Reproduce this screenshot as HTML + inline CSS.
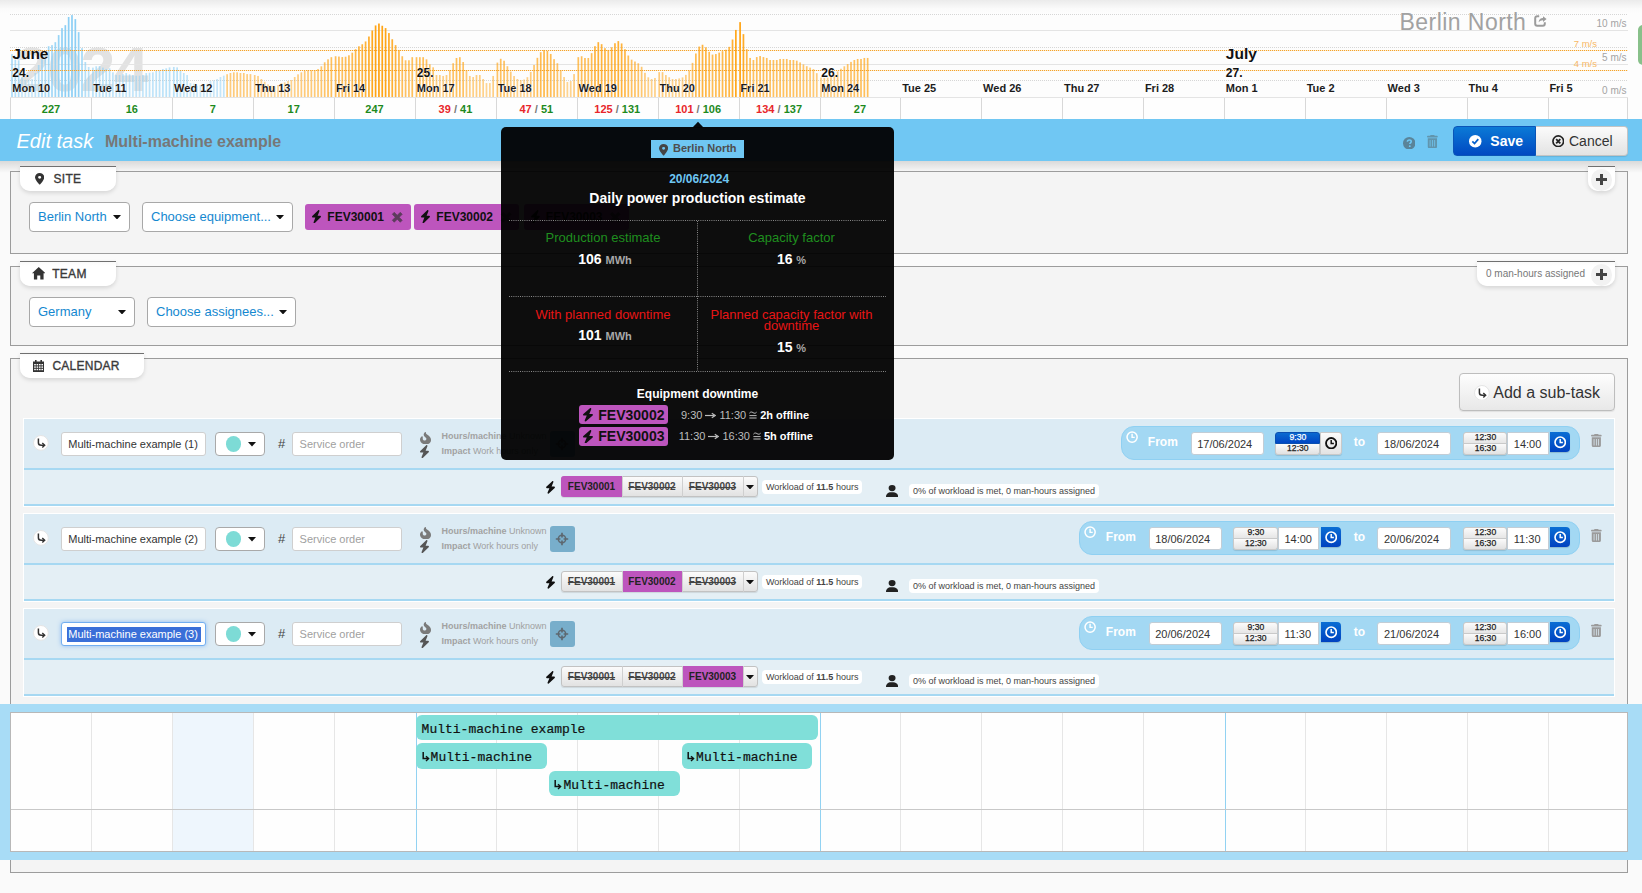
<!DOCTYPE html><html><head><meta charset="utf-8"><title>Edit task</title><style>
*{box-sizing:border-box;margin:0;padding:0}
html,body{width:1642px;height:893px;overflow:hidden;background:#fafafa;font-family:"Liberation Sans",sans-serif;color:#333}
.t{position:absolute;white-space:nowrap}
.r{position:absolute}
.b{font-weight:bold}
svg{position:absolute;left:0;top:0}
</style></head><body>
<div class="r" style="left:0px;top:0px;width:1642px;height:119px;background:linear-gradient(#ebebeb,#fbfbfb 9px,#fdfdfd 14px)"></div>
<svg width="1642" height="119" viewBox="0 0 1642 119"><text x="14.5" y="90.7" font-family="Liberation Sans" font-weight="bold" font-size="62.5" fill="#e2e2e2" letter-spacing="-1.7">2024</text><line x1="10" y1="14.5" x2="1628" y2="14.5" stroke="#d6d6d6" stroke-width="1" stroke-dasharray="1 1"/><line x1="10" y1="30.5" x2="1628" y2="30.5" stroke="#e4e4e4" stroke-width="1"/><line x1="10" y1="47.5" x2="1628" y2="47.5" stroke="#d6d6d6" stroke-width="1" stroke-dasharray="1 1"/><line x1="10" y1="64.5" x2="1628" y2="64.5" stroke="#e4e4e4" stroke-width="1"/><line x1="10" y1="80.5" x2="1628" y2="80.5" stroke="#d6d6d6" stroke-width="1" stroke-dasharray="1 1"/><rect x="11.15" y="54.24" width="1.7" height="43.56" fill="#8ccff5" fill-opacity="0.72"/><rect x="14.48" y="59.60" width="1.7" height="38.20" fill="#8ccff5" fill-opacity="0.67"/><rect x="17.82" y="60.27" width="1.7" height="37.53" fill="#8ccff5" fill-opacity="0.66"/><rect x="21.15" y="77.02" width="1.7" height="20.78" fill="#8ccff5" fill-opacity="0.50"/><rect x="24.48" y="79.71" width="1.7" height="18.09" fill="#8ccff5" fill-opacity="0.48"/><rect x="27.81" y="79.71" width="1.7" height="18.09" fill="#8ccff5" fill-opacity="0.48"/><rect x="31.15" y="79.03" width="1.7" height="18.77" fill="#8ccff5" fill-opacity="0.49"/><rect x="34.48" y="73.00" width="1.7" height="24.80" fill="#8ccff5" fill-opacity="0.54"/><rect x="37.81" y="64.96" width="1.7" height="32.84" fill="#8ccff5" fill-opacity="0.62"/><rect x="41.15" y="54.24" width="1.7" height="43.56" fill="#8ccff5" fill-opacity="0.72"/><rect x="44.48" y="52.90" width="1.7" height="44.90" fill="#8ccff5" fill-opacity="0.73"/><rect x="47.81" y="46.19" width="1.7" height="51.61" fill="#8ccff5" fill-opacity="0.80"/><rect x="51.15" y="45.12" width="1.7" height="52.68" fill="#8ccff5" fill-opacity="0.81"/><rect x="54.48" y="42.17" width="1.7" height="55.63" fill="#8ccff5" fill-opacity="0.84"/><rect x="57.81" y="35.07" width="1.7" height="62.73" fill="#8ccff5" fill-opacity="0.90"/><rect x="61.15" y="28.10" width="1.7" height="69.70" fill="#8ccff5" fill-opacity="0.97"/><rect x="64.48" y="25.15" width="1.7" height="72.65" fill="#8ccff5" fill-opacity="1.00"/><rect x="67.81" y="16.97" width="1.7" height="80.83" fill="#8ccff5" fill-opacity="1.00"/><rect x="71.14" y="15.09" width="1.7" height="82.71" fill="#8ccff5" fill-opacity="1.00"/><rect x="74.48" y="19.12" width="1.7" height="78.68" fill="#8ccff5" fill-opacity="1.00"/><rect x="77.81" y="32.12" width="1.7" height="65.68" fill="#8ccff5" fill-opacity="0.93"/><rect x="81.14" y="48.20" width="1.7" height="49.60" fill="#8ccff5" fill-opacity="0.78"/><rect x="84.48" y="62.01" width="1.7" height="35.79" fill="#8ccff5" fill-opacity="0.65"/><rect x="87.81" y="66.97" width="1.7" height="30.83" fill="#8ccff5" fill-opacity="0.60"/><rect x="92.05" y="67.64" width="1.7" height="30.16" fill="#8ccff5" fill-opacity="0.59"/><rect x="95.38" y="66.30" width="1.7" height="31.50" fill="#8ccff5" fill-opacity="0.61"/><rect x="98.72" y="66.03" width="1.7" height="31.77" fill="#8ccff5" fill-opacity="0.61"/><rect x="102.05" y="67.64" width="1.7" height="30.16" fill="#8ccff5" fill-opacity="0.59"/><rect x="105.38" y="68.98" width="1.7" height="28.82" fill="#8ccff5" fill-opacity="0.58"/><rect x="108.72" y="68.31" width="1.7" height="29.49" fill="#8ccff5" fill-opacity="0.59"/><rect x="112.05" y="72.33" width="1.7" height="25.47" fill="#8ccff5" fill-opacity="0.55"/><rect x="115.38" y="75.01" width="1.7" height="22.79" fill="#8ccff5" fill-opacity="0.52"/><rect x="118.71" y="75.01" width="1.7" height="22.79" fill="#8ccff5" fill-opacity="0.52"/><rect x="122.05" y="74.08" width="1.7" height="23.72" fill="#8ccff5" fill-opacity="0.53"/><rect x="125.38" y="73.00" width="1.7" height="24.80" fill="#8ccff5" fill-opacity="0.54"/><rect x="128.71" y="74.34" width="1.7" height="23.46" fill="#8ccff5" fill-opacity="0.53"/><rect x="132.05" y="75.01" width="1.7" height="22.79" fill="#8ccff5" fill-opacity="0.52"/><rect x="135.38" y="75.68" width="1.7" height="22.12" fill="#8ccff5" fill-opacity="0.52"/><rect x="138.71" y="75.68" width="1.7" height="22.12" fill="#8ccff5" fill-opacity="0.52"/><rect x="142.05" y="75.01" width="1.7" height="22.79" fill="#8ccff5" fill-opacity="0.52"/><rect x="145.38" y="73.00" width="1.7" height="24.80" fill="#8ccff5" fill-opacity="0.54"/><rect x="148.71" y="72.73" width="1.7" height="25.07" fill="#8ccff5" fill-opacity="0.55"/><rect x="152.04" y="72.33" width="1.7" height="25.47" fill="#8ccff5" fill-opacity="0.55"/><rect x="155.38" y="70.99" width="1.7" height="26.81" fill="#8ccff5" fill-opacity="0.56"/><rect x="158.71" y="70.32" width="1.7" height="27.48" fill="#8ccff5" fill-opacity="0.57"/><rect x="162.04" y="68.98" width="1.7" height="28.82" fill="#8ccff5" fill-opacity="0.58"/><rect x="165.38" y="68.31" width="1.7" height="29.49" fill="#8ccff5" fill-opacity="0.59"/><rect x="168.71" y="67.37" width="1.7" height="30.43" fill="#8ccff5" fill-opacity="0.60"/><rect x="172.95" y="66.97" width="1.7" height="30.83" fill="#8ccff5" fill-opacity="0.60"/><rect x="176.28" y="67.37" width="1.7" height="30.43" fill="#8ccff5" fill-opacity="0.60"/><rect x="179.62" y="70.32" width="1.7" height="27.48" fill="#8ccff5" fill-opacity="0.57"/><rect x="182.95" y="73.00" width="1.7" height="24.80" fill="#8ccff5" fill-opacity="0.54"/><rect x="186.28" y="75.01" width="1.7" height="22.79" fill="#8ccff5" fill-opacity="0.52"/><rect x="189.62" y="83.06" width="1.7" height="14.74" fill="#8ccff5" fill-opacity="0.45"/><rect x="192.95" y="83.73" width="1.7" height="14.07" fill="#8ccff5" fill-opacity="0.45"/><rect x="196.28" y="85.74" width="1.7" height="12.06" fill="#8ccff5" fill-opacity="0.45"/><rect x="199.61" y="85.07" width="1.7" height="12.73" fill="#8ccff5" fill-opacity="0.45"/><rect x="202.95" y="84.40" width="1.7" height="13.40" fill="#8ccff5" fill-opacity="0.45"/><rect x="206.28" y="83.73" width="1.7" height="14.07" fill="#8ccff5" fill-opacity="0.45"/><rect x="209.61" y="81.05" width="1.7" height="16.75" fill="#8ccff5" fill-opacity="0.47"/><rect x="212.95" y="80.38" width="1.7" height="17.42" fill="#8ccff5" fill-opacity="0.47"/><rect x="216.28" y="79.03" width="1.7" height="18.77" fill="#8ccff5" fill-opacity="0.49"/><rect x="219.61" y="77.02" width="1.7" height="20.78" fill="#8ccff5" fill-opacity="0.50"/><rect x="222.95" y="75.68" width="1.7" height="22.12" fill="#8ccff5" fill-opacity="0.52"/><rect x="226.28" y="74.21" width="1.7" height="23.59" fill="#ffa312" fill-opacity="0.53"/><rect x="229.61" y="73.00" width="1.7" height="24.80" fill="#ffa312" fill-opacity="0.54"/><rect x="232.94" y="72.33" width="1.7" height="25.47" fill="#ffa312" fill-opacity="0.55"/><rect x="236.28" y="72.33" width="1.7" height="25.47" fill="#ffa312" fill-opacity="0.55"/><rect x="239.61" y="73.00" width="1.7" height="24.80" fill="#ffa312" fill-opacity="0.54"/><rect x="242.94" y="73.00" width="1.7" height="24.80" fill="#ffa312" fill-opacity="0.54"/><rect x="246.28" y="74.08" width="1.7" height="23.72" fill="#ffa312" fill-opacity="0.53"/><rect x="249.61" y="74.08" width="1.7" height="23.72" fill="#ffa312" fill-opacity="0.53"/><rect x="253.85" y="75.01" width="1.7" height="22.79" fill="#ffa312" fill-opacity="0.52"/><rect x="257.18" y="75.95" width="1.7" height="21.85" fill="#ffa312" fill-opacity="0.51"/><rect x="260.52" y="79.03" width="1.7" height="18.77" fill="#ffa312" fill-opacity="0.49"/><rect x="263.85" y="81.72" width="1.7" height="16.08" fill="#ffa312" fill-opacity="0.46"/><rect x="267.18" y="84.40" width="1.7" height="13.40" fill="#ffa312" fill-opacity="0.45"/><rect x="270.51" y="85.74" width="1.7" height="12.06" fill="#ffa312" fill-opacity="0.45"/><rect x="273.85" y="86.41" width="1.7" height="11.39" fill="#ffa312" fill-opacity="0.45"/><rect x="277.18" y="85.07" width="1.7" height="12.73" fill="#ffa312" fill-opacity="0.45"/><rect x="280.51" y="83.06" width="1.7" height="14.74" fill="#ffa312" fill-opacity="0.45"/><rect x="283.85" y="82.39" width="1.7" height="15.41" fill="#ffa312" fill-opacity="0.45"/><rect x="287.18" y="81.05" width="1.7" height="16.75" fill="#ffa312" fill-opacity="0.47"/><rect x="290.51" y="79.97" width="1.7" height="17.83" fill="#ffa312" fill-opacity="0.48"/><rect x="293.85" y="77.02" width="1.7" height="20.78" fill="#ffa312" fill-opacity="0.50"/><rect x="297.18" y="74.34" width="1.7" height="23.46" fill="#ffa312" fill-opacity="0.53"/><rect x="300.51" y="72.33" width="1.7" height="25.47" fill="#ffa312" fill-opacity="0.55"/><rect x="303.85" y="70.99" width="1.7" height="26.81" fill="#ffa312" fill-opacity="0.56"/><rect x="307.18" y="70.32" width="1.7" height="27.48" fill="#ffa312" fill-opacity="0.57"/><rect x="310.51" y="70.32" width="1.7" height="27.48" fill="#ffa312" fill-opacity="0.57"/><rect x="313.84" y="70.05" width="1.7" height="27.75" fill="#ffa312" fill-opacity="0.57"/><rect x="317.18" y="68.98" width="1.7" height="28.82" fill="#ffa312" fill-opacity="0.58"/><rect x="320.51" y="66.30" width="1.7" height="31.50" fill="#ffa312" fill-opacity="0.61"/><rect x="323.84" y="62.28" width="1.7" height="35.52" fill="#ffa312" fill-opacity="0.64"/><rect x="327.18" y="59.33" width="1.7" height="38.47" fill="#ffa312" fill-opacity="0.67"/><rect x="330.51" y="57.18" width="1.7" height="40.62" fill="#ffa312" fill-opacity="0.69"/><rect x="334.75" y="56.25" width="1.7" height="41.55" fill="#ffa312" fill-opacity="0.70"/><rect x="338.08" y="56.57" width="1.7" height="41.23" fill="#ffa312" fill-opacity="0.70"/><rect x="341.42" y="57.05" width="1.7" height="40.75" fill="#ffa312" fill-opacity="0.69"/><rect x="344.75" y="56.74" width="1.7" height="41.06" fill="#ffa312" fill-opacity="0.70"/><rect x="348.08" y="55.29" width="1.7" height="42.51" fill="#ffa312" fill-opacity="0.71"/><rect x="351.42" y="52.67" width="1.7" height="45.13" fill="#ffa312" fill-opacity="0.74"/><rect x="354.75" y="49.21" width="1.7" height="48.59" fill="#ffa312" fill-opacity="0.77"/><rect x="358.08" y="46.29" width="1.7" height="51.51" fill="#ffa312" fill-opacity="0.80"/><rect x="361.41" y="44.27" width="1.7" height="53.53" fill="#ffa312" fill-opacity="0.82"/><rect x="364.75" y="41.45" width="1.7" height="56.35" fill="#ffa312" fill-opacity="0.84"/><rect x="368.08" y="36.50" width="1.7" height="61.30" fill="#ffa312" fill-opacity="0.89"/><rect x="371.41" y="30.49" width="1.7" height="67.31" fill="#ffa312" fill-opacity="0.95"/><rect x="374.75" y="25.43" width="1.7" height="72.37" fill="#ffa312" fill-opacity="0.99"/><rect x="378.08" y="23.53" width="1.7" height="74.27" fill="#ffa312" fill-opacity="1.00"/><rect x="381.41" y="25.76" width="1.7" height="72.04" fill="#ffa312" fill-opacity="0.99"/><rect x="384.75" y="28.10" width="1.7" height="69.70" fill="#ffa312" fill-opacity="0.97"/><rect x="388.08" y="33.06" width="1.7" height="64.74" fill="#ffa312" fill-opacity="0.92"/><rect x="391.41" y="39.22" width="1.7" height="58.58" fill="#ffa312" fill-opacity="0.86"/><rect x="394.74" y="45.12" width="1.7" height="52.68" fill="#ffa312" fill-opacity="0.81"/><rect x="398.08" y="49.95" width="1.7" height="47.85" fill="#ffa312" fill-opacity="0.76"/><rect x="401.41" y="56.25" width="1.7" height="41.55" fill="#ffa312" fill-opacity="0.70"/><rect x="404.74" y="60.27" width="1.7" height="37.53" fill="#ffa312" fill-opacity="0.66"/><rect x="408.08" y="60.27" width="1.7" height="37.53" fill="#ffa312" fill-opacity="0.66"/><rect x="411.41" y="57.18" width="1.7" height="40.62" fill="#ffa312" fill-opacity="0.69"/><rect x="415.65" y="57.18" width="1.7" height="40.62" fill="#ffa312" fill-opacity="0.69"/><rect x="418.98" y="57.18" width="1.7" height="40.62" fill="#ffa312" fill-opacity="0.69"/><rect x="422.32" y="57.18" width="1.7" height="40.62" fill="#ffa312" fill-opacity="0.69"/><rect x="425.65" y="59.33" width="1.7" height="38.47" fill="#ffa312" fill-opacity="0.67"/><rect x="428.98" y="64.29" width="1.7" height="33.51" fill="#ffa312" fill-opacity="0.63"/><rect x="432.31" y="67.31" width="1.7" height="30.49" fill="#ffa312" fill-opacity="0.60"/><rect x="435.65" y="75.01" width="1.7" height="22.79" fill="#ffa312" fill-opacity="0.52"/><rect x="438.98" y="75.01" width="1.7" height="22.79" fill="#ffa312" fill-opacity="0.52"/><rect x="442.31" y="75.95" width="1.7" height="21.85" fill="#ffa312" fill-opacity="0.51"/><rect x="445.65" y="75.01" width="1.7" height="22.79" fill="#ffa312" fill-opacity="0.52"/><rect x="448.98" y="70.32" width="1.7" height="27.48" fill="#ffa312" fill-opacity="0.57"/><rect x="452.31" y="63.22" width="1.7" height="34.58" fill="#ffa312" fill-opacity="0.64"/><rect x="455.65" y="57.99" width="1.7" height="39.81" fill="#ffa312" fill-opacity="0.69"/><rect x="458.98" y="57.18" width="1.7" height="40.62" fill="#ffa312" fill-opacity="0.69"/><rect x="462.31" y="62.01" width="1.7" height="35.79" fill="#ffa312" fill-opacity="0.65"/><rect x="465.64" y="70.32" width="1.7" height="27.48" fill="#ffa312" fill-opacity="0.57"/><rect x="468.98" y="75.95" width="1.7" height="21.85" fill="#ffa312" fill-opacity="0.51"/><rect x="472.31" y="77.02" width="1.7" height="20.78" fill="#ffa312" fill-opacity="0.50"/><rect x="475.64" y="75.01" width="1.7" height="22.79" fill="#ffa312" fill-opacity="0.52"/><rect x="478.98" y="75.01" width="1.7" height="22.79" fill="#ffa312" fill-opacity="0.52"/><rect x="482.31" y="79.03" width="1.7" height="18.77" fill="#ffa312" fill-opacity="0.49"/><rect x="485.64" y="83.06" width="1.7" height="14.74" fill="#ffa312" fill-opacity="0.45"/><rect x="488.98" y="83.06" width="1.7" height="14.74" fill="#ffa312" fill-opacity="0.45"/><rect x="492.31" y="75.95" width="1.7" height="21.85" fill="#ffa312" fill-opacity="0.51"/><rect x="496.55" y="62.60" width="1.7" height="35.20" fill="#ffa312" fill-opacity="0.64"/><rect x="499.88" y="58.79" width="1.7" height="39.01" fill="#ffa312" fill-opacity="0.68"/><rect x="503.22" y="60.74" width="1.7" height="37.06" fill="#ffa312" fill-opacity="0.66"/><rect x="506.55" y="66.21" width="1.7" height="31.59" fill="#ffa312" fill-opacity="0.61"/><rect x="509.88" y="71.62" width="1.7" height="26.18" fill="#ffa312" fill-opacity="0.56"/><rect x="513.22" y="76.03" width="1.7" height="21.77" fill="#ffa312" fill-opacity="0.51"/><rect x="516.55" y="79.00" width="1.7" height="18.80" fill="#ffa312" fill-opacity="0.49"/><rect x="519.88" y="79.97" width="1.7" height="17.83" fill="#ffa312" fill-opacity="0.48"/><rect x="523.21" y="79.53" width="1.7" height="18.27" fill="#ffa312" fill-opacity="0.48"/><rect x="526.55" y="77.17" width="1.7" height="20.63" fill="#ffa312" fill-opacity="0.50"/><rect x="529.88" y="71.94" width="1.7" height="25.86" fill="#ffa312" fill-opacity="0.55"/><rect x="533.21" y="64.98" width="1.7" height="32.82" fill="#ffa312" fill-opacity="0.62"/><rect x="536.55" y="57.82" width="1.7" height="39.98" fill="#ffa312" fill-opacity="0.69"/><rect x="539.88" y="52.19" width="1.7" height="45.61" fill="#ffa312" fill-opacity="0.74"/><rect x="543.21" y="49.95" width="1.7" height="47.85" fill="#ffa312" fill-opacity="0.76"/><rect x="546.54" y="50.93" width="1.7" height="46.87" fill="#ffa312" fill-opacity="0.75"/><rect x="549.88" y="53.94" width="1.7" height="43.86" fill="#ffa312" fill-opacity="0.72"/><rect x="553.21" y="59.17" width="1.7" height="38.63" fill="#ffa312" fill-opacity="0.67"/><rect x="556.54" y="63.22" width="1.7" height="34.58" fill="#ffa312" fill-opacity="0.64"/><rect x="559.88" y="70.32" width="1.7" height="27.48" fill="#ffa312" fill-opacity="0.57"/><rect x="563.21" y="77.02" width="1.7" height="20.78" fill="#ffa312" fill-opacity="0.50"/><rect x="566.54" y="81.98" width="1.7" height="15.82" fill="#ffa312" fill-opacity="0.46"/><rect x="569.88" y="81.05" width="1.7" height="16.75" fill="#ffa312" fill-opacity="0.47"/><rect x="573.21" y="74.08" width="1.7" height="23.72" fill="#ffa312" fill-opacity="0.53"/><rect x="577.45" y="57.18" width="1.7" height="40.62" fill="#ffa312" fill-opacity="0.69"/><rect x="580.78" y="56.25" width="1.7" height="41.55" fill="#ffa312" fill-opacity="0.70"/><rect x="584.12" y="57.99" width="1.7" height="39.81" fill="#ffa312" fill-opacity="0.69"/><rect x="587.45" y="57.99" width="1.7" height="39.81" fill="#ffa312" fill-opacity="0.69"/><rect x="590.78" y="53.16" width="1.7" height="44.64" fill="#ffa312" fill-opacity="0.73"/><rect x="594.12" y="46.19" width="1.7" height="51.61" fill="#ffa312" fill-opacity="0.80"/><rect x="597.45" y="42.17" width="1.7" height="55.63" fill="#ffa312" fill-opacity="0.84"/><rect x="600.78" y="44.18" width="1.7" height="53.62" fill="#ffa312" fill-opacity="0.82"/><rect x="604.11" y="48.20" width="1.7" height="49.60" fill="#ffa312" fill-opacity="0.78"/><rect x="607.45" y="49.95" width="1.7" height="47.85" fill="#ffa312" fill-opacity="0.76"/><rect x="610.78" y="47.27" width="1.7" height="50.53" fill="#ffa312" fill-opacity="0.79"/><rect x="614.11" y="43.24" width="1.7" height="54.56" fill="#ffa312" fill-opacity="0.83"/><rect x="617.45" y="41.10" width="1.7" height="56.70" fill="#ffa312" fill-opacity="0.85"/><rect x="620.78" y="43.44" width="1.7" height="54.36" fill="#ffa312" fill-opacity="0.82"/><rect x="624.11" y="49.22" width="1.7" height="48.58" fill="#ffa312" fill-opacity="0.77"/><rect x="627.45" y="55.52" width="1.7" height="42.28" fill="#ffa312" fill-opacity="0.71"/><rect x="630.78" y="59.66" width="1.7" height="38.14" fill="#ffa312" fill-opacity="0.67"/><rect x="634.11" y="61.54" width="1.7" height="36.26" fill="#ffa312" fill-opacity="0.65"/><rect x="637.44" y="63.28" width="1.7" height="34.52" fill="#ffa312" fill-opacity="0.64"/><rect x="640.78" y="66.77" width="1.7" height="31.03" fill="#ffa312" fill-opacity="0.60"/><rect x="644.11" y="72.80" width="1.7" height="25.00" fill="#ffa312" fill-opacity="0.54"/><rect x="647.44" y="77.32" width="1.7" height="20.48" fill="#ffa312" fill-opacity="0.50"/><rect x="650.78" y="79.01" width="1.7" height="18.79" fill="#ffa312" fill-opacity="0.49"/><rect x="654.11" y="77.98" width="1.7" height="19.82" fill="#ffa312" fill-opacity="0.50"/><rect x="658.35" y="72.13" width="1.7" height="25.67" fill="#ffa312" fill-opacity="0.55"/><rect x="661.68" y="72.13" width="1.7" height="25.67" fill="#ffa312" fill-opacity="0.55"/><rect x="665.02" y="75.06" width="1.7" height="22.74" fill="#ffa312" fill-opacity="0.52"/><rect x="668.35" y="77.25" width="1.7" height="20.55" fill="#ffa312" fill-opacity="0.50"/><rect x="671.68" y="79.01" width="1.7" height="18.79" fill="#ffa312" fill-opacity="0.49"/><rect x="675.01" y="79.01" width="1.7" height="18.79" fill="#ffa312" fill-opacity="0.49"/><rect x="678.35" y="78.42" width="1.7" height="19.38" fill="#ffa312" fill-opacity="0.49"/><rect x="681.68" y="77.41" width="1.7" height="20.39" fill="#ffa312" fill-opacity="0.50"/><rect x="685.01" y="74.86" width="1.7" height="22.94" fill="#ffa312" fill-opacity="0.53"/><rect x="688.35" y="70.45" width="1.7" height="27.35" fill="#ffa312" fill-opacity="0.57"/><rect x="691.68" y="62.87" width="1.7" height="34.93" fill="#ffa312" fill-opacity="0.64"/><rect x="695.01" y="53.48" width="1.7" height="44.32" fill="#ffa312" fill-opacity="0.73"/><rect x="698.35" y="46.57" width="1.7" height="51.23" fill="#ffa312" fill-opacity="0.79"/><rect x="701.68" y="44.76" width="1.7" height="53.04" fill="#ffa312" fill-opacity="0.81"/><rect x="705.01" y="47.31" width="1.7" height="50.49" fill="#ffa312" fill-opacity="0.79"/><rect x="708.35" y="51.84" width="1.7" height="45.96" fill="#ffa312" fill-opacity="0.74"/><rect x="711.68" y="54.61" width="1.7" height="43.19" fill="#ffa312" fill-opacity="0.72"/><rect x="715.01" y="54.05" width="1.7" height="43.75" fill="#ffa312" fill-opacity="0.72"/><rect x="718.34" y="52.61" width="1.7" height="45.19" fill="#ffa312" fill-opacity="0.74"/><rect x="721.68" y="51.16" width="1.7" height="46.64" fill="#ffa312" fill-opacity="0.75"/><rect x="725.01" y="49.70" width="1.7" height="48.10" fill="#ffa312" fill-opacity="0.76"/><rect x="728.34" y="46.86" width="1.7" height="50.94" fill="#ffa312" fill-opacity="0.79"/><rect x="731.68" y="39.52" width="1.7" height="58.28" fill="#ffa312" fill-opacity="0.86"/><rect x="735.01" y="29.92" width="1.7" height="67.88" fill="#ffa312" fill-opacity="0.95"/><rect x="739.25" y="22.13" width="1.7" height="75.67" fill="#ffa312" fill-opacity="1.00"/><rect x="742.58" y="34.12" width="1.7" height="63.68" fill="#ffa312" fill-opacity="0.91"/><rect x="745.92" y="49.18" width="1.7" height="48.62" fill="#ffa312" fill-opacity="0.77"/><rect x="749.25" y="57.95" width="1.7" height="39.85" fill="#ffa312" fill-opacity="0.69"/><rect x="752.58" y="60.00" width="1.7" height="37.80" fill="#ffa312" fill-opacity="0.67"/><rect x="755.91" y="57.08" width="1.7" height="40.72" fill="#ffa312" fill-opacity="0.69"/><rect x="759.25" y="56.05" width="1.7" height="41.75" fill="#ffa312" fill-opacity="0.70"/><rect x="762.58" y="57.08" width="1.7" height="40.72" fill="#ffa312" fill-opacity="0.69"/><rect x="765.91" y="57.95" width="1.7" height="39.85" fill="#ffa312" fill-opacity="0.69"/><rect x="769.25" y="60.00" width="1.7" height="37.80" fill="#ffa312" fill-opacity="0.67"/><rect x="772.58" y="60.00" width="1.7" height="37.80" fill="#ffa312" fill-opacity="0.67"/><rect x="775.91" y="60.00" width="1.7" height="37.80" fill="#ffa312" fill-opacity="0.67"/><rect x="779.25" y="58.98" width="1.7" height="38.82" fill="#ffa312" fill-opacity="0.68"/><rect x="782.58" y="58.98" width="1.7" height="38.82" fill="#ffa312" fill-opacity="0.68"/><rect x="785.91" y="58.98" width="1.7" height="38.82" fill="#ffa312" fill-opacity="0.68"/><rect x="789.25" y="60.00" width="1.7" height="37.80" fill="#ffa312" fill-opacity="0.67"/><rect x="792.58" y="60.00" width="1.7" height="37.80" fill="#ffa312" fill-opacity="0.67"/><rect x="795.91" y="60.67" width="1.7" height="37.13" fill="#ffa312" fill-opacity="0.66"/><rect x="799.24" y="62.41" width="1.7" height="35.39" fill="#ffa312" fill-opacity="0.64"/><rect x="802.58" y="64.42" width="1.7" height="33.38" fill="#ffa312" fill-opacity="0.62"/><rect x="805.91" y="66.23" width="1.7" height="31.57" fill="#ffa312" fill-opacity="0.61"/><rect x="809.24" y="67.65" width="1.7" height="30.15" fill="#ffa312" fill-opacity="0.59"/><rect x="812.58" y="69.12" width="1.7" height="28.68" fill="#ffa312" fill-opacity="0.58"/><rect x="815.91" y="73.15" width="1.7" height="24.65" fill="#ffa312" fill-opacity="0.54"/><rect x="820.15" y="77.54" width="1.7" height="20.26" fill="#ffa312" fill-opacity="0.50"/><rect x="823.48" y="77.98" width="1.7" height="19.82" fill="#ffa312" fill-opacity="0.50"/><rect x="826.82" y="77.54" width="1.7" height="20.26" fill="#ffa312" fill-opacity="0.50"/><rect x="830.15" y="75.79" width="1.7" height="22.01" fill="#ffa312" fill-opacity="0.52"/><rect x="833.48" y="74.33" width="1.7" height="23.47" fill="#ffa312" fill-opacity="0.53"/><rect x="836.81" y="71.40" width="1.7" height="26.40" fill="#ffa312" fill-opacity="0.56"/><rect x="840.15" y="68.77" width="1.7" height="29.03" fill="#ffa312" fill-opacity="0.58"/><rect x="843.48" y="66.29" width="1.7" height="31.51" fill="#ffa312" fill-opacity="0.61"/><rect x="846.81" y="64.09" width="1.7" height="33.71" fill="#ffa312" fill-opacity="0.63"/><rect x="850.15" y="61.90" width="1.7" height="35.90" fill="#ffa312" fill-opacity="0.65"/><rect x="853.48" y="60.00" width="1.7" height="37.80" fill="#ffa312" fill-opacity="0.67"/><rect x="856.81" y="58.98" width="1.7" height="38.82" fill="#ffa312" fill-opacity="0.68"/><rect x="860.15" y="58.98" width="1.7" height="38.82" fill="#ffa312" fill-opacity="0.68"/><rect x="863.48" y="57.95" width="1.7" height="39.85" fill="#ffa312" fill-opacity="0.69"/><rect x="866.81" y="57.95" width="1.7" height="39.85" fill="#ffa312" fill-opacity="0.69"/><line x1="10" y1="50.5" x2="1628" y2="50.5" stroke="#f5a328" stroke-width="1.2" stroke-dasharray="1.2 0.8"/><line x1="10" y1="70.5" x2="1628" y2="70.5" stroke="#f5a328" stroke-width="1.2" stroke-dasharray="1.2 0.8"/><rect x="10" y="98" width="1618" height="21" fill="#fefefe"/><line x1="10" y1="97.5" x2="1628" y2="97.5" stroke="#e4e4e4"/><line x1="10.5" y1="98" x2="10.5" y2="119" stroke="#d8d8d8"/><line x1="91.5" y1="98" x2="91.5" y2="119" stroke="#d8d8d8"/><line x1="172.5" y1="98" x2="172.5" y2="119" stroke="#d8d8d8"/><line x1="253.5" y1="98" x2="253.5" y2="119" stroke="#d8d8d8"/><line x1="334.5" y1="98" x2="334.5" y2="119" stroke="#d8d8d8"/><line x1="415.5" y1="98" x2="415.5" y2="119" stroke="#d8d8d8"/><line x1="496.5" y1="98" x2="496.5" y2="119" stroke="#d8d8d8"/><line x1="577.5" y1="98" x2="577.5" y2="119" stroke="#d8d8d8"/><line x1="658.5" y1="98" x2="658.5" y2="119" stroke="#d8d8d8"/><line x1="739.5" y1="98" x2="739.5" y2="119" stroke="#d8d8d8"/><line x1="820.5" y1="98" x2="820.5" y2="119" stroke="#d8d8d8"/><line x1="900.5" y1="98" x2="900.5" y2="119" stroke="#d8d8d8"/><line x1="981.5" y1="98" x2="981.5" y2="119" stroke="#d8d8d8"/><line x1="1062.5" y1="98" x2="1062.5" y2="119" stroke="#d8d8d8"/><line x1="1143.5" y1="98" x2="1143.5" y2="119" stroke="#d8d8d8"/><line x1="1224.5" y1="98" x2="1224.5" y2="119" stroke="#d8d8d8"/><line x1="1305.5" y1="98" x2="1305.5" y2="119" stroke="#d8d8d8"/><line x1="1386.5" y1="98" x2="1386.5" y2="119" stroke="#d8d8d8"/><line x1="1467.5" y1="98" x2="1467.5" y2="119" stroke="#d8d8d8"/><line x1="1548.5" y1="98" x2="1548.5" y2="119" stroke="#d8d8d8"/><line x1="1627.5" y1="98" x2="1627.5" y2="119" stroke="#d8d8d8"/></svg>
<div class="r" style="left:1638px;top:25px;width:8px;height:40px;background:#88c08a;border-radius:5px 0 0 5px"></div>
<div class="t b" style="left:12.30px;top:82.89px;font-size:11px;line-height:11px;color:#1c1c1c;text-shadow:0 0 1px #fff,0 0 1px #fff">Mon 10</div>
<div class="t b" style="left:93.20px;top:82.89px;font-size:11px;line-height:11px;color:#1c1c1c;text-shadow:0 0 1px #fff,0 0 1px #fff">Tue 11</div>
<div class="t b" style="left:174.10px;top:82.89px;font-size:11px;line-height:11px;color:#1c1c1c;text-shadow:0 0 1px #fff,0 0 1px #fff">Wed 12</div>
<div class="t b" style="left:255.00px;top:82.89px;font-size:11px;line-height:11px;color:#1c1c1c;text-shadow:0 0 1px #fff,0 0 1px #fff">Thu 13</div>
<div class="t b" style="left:335.90px;top:82.89px;font-size:11px;line-height:11px;color:#1c1c1c;text-shadow:0 0 1px #fff,0 0 1px #fff">Fri 14</div>
<div class="t b" style="left:416.80px;top:82.89px;font-size:11px;line-height:11px;color:#1c1c1c;text-shadow:0 0 1px #fff,0 0 1px #fff">Mon 17</div>
<div class="t b" style="left:497.70px;top:82.89px;font-size:11px;line-height:11px;color:#1c1c1c;text-shadow:0 0 1px #fff,0 0 1px #fff">Tue 18</div>
<div class="t b" style="left:578.60px;top:82.89px;font-size:11px;line-height:11px;color:#1c1c1c;text-shadow:0 0 1px #fff,0 0 1px #fff">Wed 19</div>
<div class="t b" style="left:659.50px;top:82.89px;font-size:11px;line-height:11px;color:#1c1c1c;text-shadow:0 0 1px #fff,0 0 1px #fff">Thu 20</div>
<div class="t b" style="left:740.40px;top:82.89px;font-size:11px;line-height:11px;color:#1c1c1c;text-shadow:0 0 1px #fff,0 0 1px #fff">Fri 21</div>
<div class="t b" style="left:821.30px;top:82.89px;font-size:11px;line-height:11px;color:#1c1c1c;text-shadow:0 0 1px #fff,0 0 1px #fff">Mon 24</div>
<div class="t b" style="left:902.20px;top:82.89px;font-size:11px;line-height:11px;color:#1c1c1c;text-shadow:0 0 1px #fff,0 0 1px #fff">Tue 25</div>
<div class="t b" style="left:983.10px;top:82.89px;font-size:11px;line-height:11px;color:#1c1c1c;text-shadow:0 0 1px #fff,0 0 1px #fff">Wed 26</div>
<div class="t b" style="left:1064.00px;top:82.89px;font-size:11px;line-height:11px;color:#1c1c1c;text-shadow:0 0 1px #fff,0 0 1px #fff">Thu 27</div>
<div class="t b" style="left:1144.90px;top:82.89px;font-size:11px;line-height:11px;color:#1c1c1c;text-shadow:0 0 1px #fff,0 0 1px #fff">Fri 28</div>
<div class="t b" style="left:1225.80px;top:82.89px;font-size:11px;line-height:11px;color:#1c1c1c;text-shadow:0 0 1px #fff,0 0 1px #fff">Mon 1</div>
<div class="t b" style="left:1306.70px;top:82.89px;font-size:11px;line-height:11px;color:#1c1c1c;text-shadow:0 0 1px #fff,0 0 1px #fff">Tue 2</div>
<div class="t b" style="left:1387.60px;top:82.89px;font-size:11px;line-height:11px;color:#1c1c1c;text-shadow:0 0 1px #fff,0 0 1px #fff">Wed 3</div>
<div class="t b" style="left:1468.50px;top:82.89px;font-size:11px;line-height:11px;color:#1c1c1c;text-shadow:0 0 1px #fff,0 0 1px #fff">Thu 4</div>
<div class="t b" style="left:1549.40px;top:82.89px;font-size:11px;line-height:11px;color:#1c1c1c;text-shadow:0 0 1px #fff,0 0 1px #fff">Fri 5</div>
<div class="t b" style="left:12.30px;top:66.84px;font-size:12px;line-height:12px;color:#111;text-shadow:0 0 1px #fff,0 0 1px #fff">24.</div>
<div class="t b" style="left:416.80px;top:66.84px;font-size:12px;line-height:12px;color:#111;text-shadow:0 0 1px #fff,0 0 1px #fff">25.</div>
<div class="t b" style="left:821.30px;top:66.84px;font-size:12px;line-height:12px;color:#111;text-shadow:0 0 1px #fff,0 0 1px #fff">26.</div>
<div class="t b" style="left:1225.80px;top:66.84px;font-size:12px;line-height:12px;color:#111;text-shadow:0 0 1px #fff,0 0 1px #fff">27.</div>
<div class="t b" style="left:12.30px;top:45.58px;font-size:15.5px;line-height:15.5px;color:#111;text-shadow:0 0 1px #fff,0 0 1px #fff">June</div>
<div class="t b" style="left:1225.80px;top:45.58px;font-size:15.5px;line-height:15.5px;color:#111;text-shadow:0 0 1px #fff,0 0 1px #fff">July</div>
<div class="t b" style="left:-99.05px;width:300px;text-align:center;top:103.99px;font-size:11px;line-height:11px;"><span style="color:#1d8a1d">227</span></div>
<div class="t b" style="left:-18.15px;width:300px;text-align:center;top:103.99px;font-size:11px;line-height:11px;"><span style="color:#1d8a1d">16</span></div>
<div class="t b" style="left:62.75px;width:300px;text-align:center;top:103.99px;font-size:11px;line-height:11px;"><span style="color:#1d8a1d">7</span></div>
<div class="t b" style="left:143.65px;width:300px;text-align:center;top:103.99px;font-size:11px;line-height:11px;"><span style="color:#1d8a1d">17</span></div>
<div class="t b" style="left:224.55px;width:300px;text-align:center;top:103.99px;font-size:11px;line-height:11px;"><span style="color:#1d8a1d">247</span></div>
<div class="t b" style="left:305.45px;width:300px;text-align:center;top:103.99px;font-size:11px;line-height:11px;"><span style="color:#e8262a">39</span> <span style="color:#777">/</span> <span style="color:#1d8a1d">41</span></div>
<div class="t b" style="left:386.35px;width:300px;text-align:center;top:103.99px;font-size:11px;line-height:11px;"><span style="color:#e8262a">47</span> <span style="color:#777">/</span> <span style="color:#1d8a1d">51</span></div>
<div class="t b" style="left:467.25px;width:300px;text-align:center;top:103.99px;font-size:11px;line-height:11px;"><span style="color:#e8262a">125</span> <span style="color:#777">/</span> <span style="color:#1d8a1d">131</span></div>
<div class="t b" style="left:548.15px;width:300px;text-align:center;top:103.99px;font-size:11px;line-height:11px;"><span style="color:#e8262a">101</span> <span style="color:#777">/</span> <span style="color:#1d8a1d">106</span></div>
<div class="t b" style="left:629.05px;width:300px;text-align:center;top:103.99px;font-size:11px;line-height:11px;"><span style="color:#e8262a">134</span> <span style="color:#777">/</span> <span style="color:#1d8a1d">137</span></div>
<div class="t b" style="left:709.95px;width:300px;text-align:center;top:103.99px;font-size:11px;line-height:11px;"><span style="color:#1d8a1d">27</span></div>
<div class="t " style="left:1326.50px;width:300px;text-align:right;top:19.43px;font-size:10px;line-height:10px;color:#a3a3a3">10 m/s</div>
<div class="t " style="left:1326.50px;width:300px;text-align:right;top:52.83px;font-size:10px;line-height:10px;color:#a3a3a3">5 m/s</div>
<div class="t " style="left:1326.50px;width:300px;text-align:right;top:86.03px;font-size:10px;line-height:10px;color:#a3a3a3">0 m/s</div>
<div class="t " style="left:1297.00px;width:300px;text-align:right;top:39.26px;font-size:9.5px;line-height:9.5px;color:#f7b866">7 m/s</div>
<div class="t " style="left:1297.00px;width:300px;text-align:right;top:59.26px;font-size:9.5px;line-height:9.5px;color:#f7b866">4 m/s</div>
<div class="t " style="left:1399.50px;top:10.83px;font-size:23px;line-height:23px;color:#a2a2a2;letter-spacing:0.45px">Berlin North</div>
<svg style="left:1533.5px;top:13.5px" width="13" height="13" viewBox="0 0 13 13"><path d="M5.2 2.2H3.2A2 2 0 0 0 1.2 4.2V9.8A2 2 0 0 0 3.2 11.8H8.8A2 2 0 0 0 10.8 9.8V8.2" fill="none" stroke="#9c9c9c" stroke-width="2"/><path d="M4.6 8.2C4.9 5.6 6.6 4.2 9 4.1V2.2L12.6 5.1 9 8V6.2C7.2 6.2 5.8 6.9 4.6 8.2Z" fill="#9c9c9c"/></svg>
<div class="r" style="left:0px;top:161px;width:1642px;height:12px;background:linear-gradient(rgba(0,0,0,0.13),rgba(0,0,0,0))"></div>
<div class="r" style="left:0px;top:119px;width:1642px;height:42px;background:#70c7f3"></div>
<div class="t " style="left:16.50px;top:131.07px;font-size:20px;line-height:20px;color:#fff;font-style:italic">Edit task</div>
<div class="t b" style="left:105.00px;top:134.46px;font-size:16px;line-height:16px;color:#777">Multi-machine example</div>
<div class="r" style="left:10px;top:171px;width:1618px;height:83px;border:1px solid #9c9c9c;background:#f4f4f4"></div>
<div class="r" style="left:20px;top:166px;width:96px;height:25px;background:#fff;border-top:1px solid #707070;border-radius:0 0 10px 10px;box-shadow:0 2px 4px rgba(0,0,0,0.13);background:linear-gradient(#fafafa,#fff 4px)"></div>
<svg style="left:34.8px;top:173px" width="9.3" height="11.625" viewBox="0 0 384 512" preserveAspectRatio="none"><path d="M215.7 499.2C267 435 384 279.4 384 192C384 86 298 0 192 0S0 86 0 192c0 87.4 117 243 168.3 307.2c12.3 15.3 35.1 15.3 47.4 0zM192 128a64 64 0 1 1 0 128 64 64 0 1 1 0-128z" fill="#333"/></svg>
<div class="t " style="left:53.50px;top:172.64px;font-size:12px;line-height:12px;color:#3a3a3a;letter-spacing:0.3px;-webkit-text-stroke:0.35px #3a3a3a">SITE</div>
<div class="r" style="left:1588px;top:166px;width:27px;height:25px;background:#fff;border-top:1px solid #707070;border-radius:0 0 10px 10px;box-shadow:0 2px 4px rgba(0,0,0,0.13);background:linear-gradient(#fafafa,#fff 4px)"></div>
<div class="r" style="left:1590.5px;top:169px;width:21.5px;height:21.5px;border-radius:50%;background:#f2f2f2"></div>
<svg style="left:1596.3px;top:174px" width="11" height="11" viewBox="0 0 11 11"><path d="M4 0H7V4H11V7H7V11H4V7H0V4H4Z" fill="#444"/></svg>
<div class="r" style="left:29px;top:202px;width:101px;height:30px;background:#fff;border:1px solid #a8a8a8;border-radius:4px"></div>
<div class="t " style="left:38.00px;top:209.70px;font-size:13px;line-height:13px;color:#1488d0">Berlin North</div>
<svg style="left:113px;top:214.8px" width="8" height="4.5" viewBox="0 0 8 4.5"><path d="M0 0H8L4 4.5Z" fill="#111"/></svg>
<div class="r" style="left:142px;top:202px;width:151px;height:30px;background:#fff;border:1px solid #a8a8a8;border-radius:4px"></div>
<div class="t " style="left:151.00px;top:209.70px;font-size:13px;line-height:13px;color:#1488d0">Choose equipment...</div>
<svg style="left:276px;top:214.8px" width="8" height="4.5" viewBox="0 0 8 4.5"><path d="M0 0H8L4 4.5Z" fill="#111"/></svg>
<div class="r" style="left:305px;top:204px;width:106px;height:26px;background:#bd55bd;border-radius:3px"></div>
<svg style="left:312px;top:209.7px" width="9" height="13.3" viewBox="30 0 388 512" preserveAspectRatio="none"><path d="M349.4 44.6c5.9-13.7 1.5-29.7-10.6-38.5s-28.6-8-39.9 1.8l-256 224c-10 8.8-13.6 22.9-8.9 35.3S50.7 288 64 288H175.5L98.6 467.4c-5.9 13.7-1.5 29.7 10.6 38.5s28.6 8 39.9-1.8l256-224c10-8.8 13.6-22.9 8.9-35.3s-16.6-20.7-30-20.7H272.5L349.4 44.6z" fill="#111"/></svg>
<div class="t b" style="left:327.30px;top:210.54px;font-size:12px;line-height:12px;color:#111">FEV30001</div>
<svg style="left:390.6px;top:210.7px" width="12.5" height="12.5" viewBox="0 0 10 10"><path d="M1 2.6 2.6 1 5 3.4 7.4 1 9 2.6 6.6 5 9 7.4 7.4 9 5 6.6 2.6 9 1 7.4 3.4 5Z" fill="#5c3c5c" stroke="#5c3c5c" stroke-width="0.5" stroke-linejoin="round"/></svg>
<div class="r" style="left:414px;top:204px;width:105px;height:26px;background:#bd55bd;border-radius:3px"></div>
<svg style="left:421px;top:209.7px" width="9" height="13.3" viewBox="30 0 388 512" preserveAspectRatio="none"><path d="M349.4 44.6c5.9-13.7 1.5-29.7-10.6-38.5s-28.6-8-39.9 1.8l-256 224c-10 8.8-13.6 22.9-8.9 35.3S50.7 288 64 288H175.5L98.6 467.4c-5.9 13.7-1.5 29.7 10.6 38.5s28.6 8 39.9-1.8l256-224c10-8.8 13.6-22.9 8.9-35.3s-16.6-20.7-30-20.7H272.5L349.4 44.6z" fill="#111"/></svg>
<div class="t b" style="left:436.30px;top:210.54px;font-size:12px;line-height:12px;color:#111">FEV30002</div>
<svg style="left:499.6px;top:210.7px" width="12.5" height="12.5" viewBox="0 0 10 10"><path d="M1 2.6 2.6 1 5 3.4 7.4 1 9 2.6 6.6 5 9 7.4 7.4 9 5 6.6 2.6 9 1 7.4 3.4 5Z" fill="#5c3c5c" stroke="#5c3c5c" stroke-width="0.5" stroke-linejoin="round"/></svg>
<div class="r" style="left:523.5px;top:204px;width:105px;height:26px;background:#bd55bd;border-radius:3px"></div>
<svg style="left:530.5px;top:209.7px" width="9" height="13.3" viewBox="30 0 388 512" preserveAspectRatio="none"><path d="M349.4 44.6c5.9-13.7 1.5-29.7-10.6-38.5s-28.6-8-39.9 1.8l-256 224c-10 8.8-13.6 22.9-8.9 35.3S50.7 288 64 288H175.5L98.6 467.4c-5.9 13.7-1.5 29.7 10.6 38.5s28.6 8 39.9-1.8l256-224c10-8.8 13.6-22.9 8.9-35.3s-16.6-20.7-30-20.7H272.5L349.4 44.6z" fill="#111"/></svg>
<div class="t b" style="left:545.80px;top:210.54px;font-size:12px;line-height:12px;color:#111">FEV30003</div>
<svg style="left:609.1px;top:210.7px" width="12.5" height="12.5" viewBox="0 0 10 10"><path d="M1 2.6 2.6 1 5 3.4 7.4 1 9 2.6 6.6 5 9 7.4 7.4 9 5 6.6 2.6 9 1 7.4 3.4 5Z" fill="#5c3c5c" stroke="#5c3c5c" stroke-width="0.5" stroke-linejoin="round"/></svg>
<div class="r" style="left:10px;top:266px;width:1618px;height:80px;border:1px solid #9c9c9c;background:#f4f4f4"></div>
<div class="r" style="left:20px;top:261px;width:96px;height:25px;background:#fff;border-top:1px solid #707070;border-radius:0 0 10px 10px;box-shadow:0 2px 4px rgba(0,0,0,0.13);background:linear-gradient(#fafafa,#fff 4px)"></div>
<svg style="left:31.5px;top:267.3px" width="13.5" height="12.7" viewBox="0 0 14 13"><path d="M7 0 14 6.3H12V13H8.6V8.8H5.4V13H2V6.3H0Z" fill="#333"/></svg>
<div class="t " style="left:52.20px;top:268.34px;font-size:12px;line-height:12px;color:#3a3a3a;letter-spacing:0.3px;-webkit-text-stroke:0.35px #3a3a3a">TEAM</div>
<div class="r" style="left:1477px;top:261px;width:138px;height:25px;background:#fff;border-top:1px solid #707070;border-radius:0 0 10px 10px;box-shadow:0 2px 4px rgba(0,0,0,0.13);background:linear-gradient(#fafafa,#fff 4px)"></div>
<div class="t " style="left:1486.00px;top:268.84px;font-size:10px;line-height:10px;color:#777">0 man-hours assigned</div>
<div class="r" style="left:1590.5px;top:264px;width:21.5px;height:21.5px;border-radius:50%;background:#f2f2f2"></div>
<svg style="left:1596.3px;top:269px" width="11" height="11" viewBox="0 0 11 11"><path d="M4 0H7V4H11V7H7V11H4V7H0V4H4Z" fill="#444"/></svg>
<div class="r" style="left:29px;top:297px;width:106px;height:30px;background:#fff;border:1px solid #a8a8a8;border-radius:4px"></div>
<div class="t " style="left:38.00px;top:304.70px;font-size:13px;line-height:13px;color:#1488d0">Germany</div>
<svg style="left:117.8px;top:309.8px" width="8" height="4.5" viewBox="0 0 8 4.5"><path d="M0 0H8L4 4.5Z" fill="#111"/></svg>
<div class="r" style="left:147px;top:297px;width:149px;height:30px;background:#fff;border:1px solid #a8a8a8;border-radius:4px"></div>
<div class="t " style="left:156.00px;top:304.70px;font-size:13px;line-height:13px;color:#1488d0">Choose assignees...</div>
<svg style="left:279px;top:309.8px" width="8" height="4.5" viewBox="0 0 8 4.5"><path d="M0 0H8L4 4.5Z" fill="#111"/></svg>
<div class="r" style="left:10px;top:358px;width:1618px;height:515px;border:1px solid #9c9c9c;background:#f4f4f4"></div>
<div class="r" style="left:20px;top:353px;width:124px;height:25px;background:#fff;border-top:1px solid #707070;border-radius:0 0 10px 10px;box-shadow:0 2px 4px rgba(0,0,0,0.13);background:linear-gradient(#fafafa,#fff 4px)"></div>
<svg style="left:33px;top:360px" width="11" height="12" viewBox="0 0 11 12"><path d="M2 0h1.6v1.5h3.8V0H9v1.5h2V12H0V1.5h2Z" fill="#333"/><g fill="#fff"><rect x="1.2" y="4" width="1.6" height="1.4"/><rect x="3.6" y="4" width="1.6" height="1.4"/><rect x="6" y="4" width="1.6" height="1.4"/><rect x="8.4" y="4" width="1.6" height="1.4"/><rect x="1.2" y="6.4" width="1.6" height="1.4"/><rect x="3.6" y="6.4" width="1.6" height="1.4"/><rect x="6" y="6.4" width="1.6" height="1.4"/><rect x="8.4" y="6.4" width="1.6" height="1.4"/><rect x="1.2" y="8.8" width="1.6" height="1.4"/><rect x="3.6" y="8.8" width="1.6" height="1.4"/><rect x="6" y="8.8" width="1.6" height="1.4"/><rect x="8.4" y="8.8" width="1.6" height="1.4"/></g></svg>
<div class="t " style="left:52.40px;top:360.24px;font-size:12px;line-height:12px;color:#3a3a3a;letter-spacing:0.25px;-webkit-text-stroke:0.35px #3a3a3a">CALENDAR</div>
<div class="r" style="left:1459px;top:373px;width:156px;height:38px;background:linear-gradient(#fdfdfd,#e8e8e8);border:1px solid #bdbdbd;border-radius:4px;box-shadow:0 1px 1px rgba(0,0,0,0.08)"></div>
<svg style="left:1473.8999999999999px;top:384.6px" width="15.8" height="15.8" viewBox="0 0 15.8 15.8"><circle cx="7.9" cy="7.9" r="7.4" fill="#fff" stroke="#e4e4e4" stroke-width="1"/><path d="M5.4 3.4000000000000004V7.800000000000001Q5.4 10.3 8.200000000000001 10.3H11.4" fill="none" stroke="#333" stroke-width="1.5"/><path d="M9.3 8.0L11.7 10.3L9.3 12.600000000000001" fill="none" stroke="#333" stroke-width="1.4"/></svg>
<div class="t " style="left:1493.30px;top:384.76px;font-size:16px;line-height:16px;color:#333">Add a sub-task</div>
<svg style="left:1402.5px;top:136.5px" width="12.5" height="12.5" viewBox="0 0 12 12"><circle cx="6" cy="6" r="6" fill="#5a8499"/><path d="M4.2 4.6C4.2 3.5 5 2.9 6.1 2.9 7.2 2.9 7.9 3.6 7.9 4.4 7.9 5.6 6.6 5.7 6.6 6.8" fill="none" stroke="#70c7f3" stroke-width="1.5"/><circle cx="6.5" cy="8.8" r="0.9" fill="#70c7f3"/></svg>
<svg style="left:1427.3px;top:134.7px" width="10.8" height="13.4" viewBox="0 0 448 512" preserveAspectRatio="none"><path d="M135.2 17.7C140.6 6.8 151.7 0 163.8 0H284.2c12.1 0 23.2 6.8 28.6 17.7L320 32h96c17.7 0 32 14.3 32 32s-14.3 32-32 32H32C14.3 96 0 81.7 0 64S14.3 32 32 32h96l7.2-14.3zM32 128H416V448c0 35.3-28.7 64-64 64H96c-35.3 0-64-28.7-64-64V128zm96 64c-8.8 0-16 7.2-16 16V432c0 8.8 7.2 16 16 16s16-7.2 16-16V208c0-8.8-7.2-16-16-16zm96 0c-8.8 0-16 7.2-16 16V432c0 8.8 7.2 16 16 16s16-7.2 16-16V208c0-8.8-7.2-16-16-16zm96 0c-8.8 0-16 7.2-16 16V432c0 8.8 7.2 16 16 16s16-7.2 16-16V208c0-8.8-7.2-16-16-16z" fill="#6195ad"/></svg>
<div class="r" style="left:1453px;top:126px;width:83px;height:30px;background:linear-gradient(#0b7ad6,#0048c2);border:1px solid #0a55b8;border-radius:4px 0 0 4px"></div>
<svg style="left:1469px;top:135px" width="12.5" height="12.5" viewBox="0 0 12 12"><circle cx="6" cy="6" r="6" fill="#fff"/><path d="M3.2 6.2 5.3 8.2 8.9 3.9" fill="none" stroke="#0560cc" stroke-width="1.7"/></svg>
<div class="t b" style="left:1490.30px;top:134.35px;font-size:14px;line-height:14px;color:#fff">Save</div>
<div class="r" style="left:1536px;top:126px;width:92px;height:30px;background:linear-gradient(#fbfbfb,#e3e3e3);border:1px solid #c4c4c4;border-left:0;border-radius:0 4px 4px 0;box-shadow:0 1px 1px rgba(0,0,0,0.1)"></div>
<svg style="left:1551.8px;top:134.6px" width="12.5" height="12.5" viewBox="0 0 12 12"><circle cx="6" cy="6" r="5.1" fill="none" stroke="#222" stroke-width="1.6"/><path d="M4 4 8 8M8 4 4 8" stroke="#222" stroke-width="1.7"/></svg>
<div class="t " style="left:1569.00px;top:134.35px;font-size:14px;line-height:14px;color:#333">Cancel</div>
<div class="r" style="left:23px;top:418px;width:1592px;height:89px;border:1px solid #fff;background:#e4eff5"></div>
<div class="r" style="left:24px;top:419px;width:1590px;height:49px;background:#dcebf4"></div>
<div class="r" style="left:24px;top:468px;width:1590px;height:2px;background:#a6d8f2"></div>
<div class="r" style="left:24px;top:504px;width:1590px;height:2px;background:#a6d8f2"></div>
<svg style="left:33.0px;top:435.1px" width="15.8" height="15.8" viewBox="0 0 15.8 15.8"><circle cx="7.9" cy="7.9" r="7.4" fill="#fff" stroke="#e4e4e4" stroke-width="1"/><path d="M5.4 3.4000000000000004V7.800000000000001Q5.4 10.3 8.200000000000001 10.3H11.4" fill="none" stroke="#333" stroke-width="1.5"/><path d="M9.3 8.0L11.7 10.3L9.3 12.600000000000001" fill="none" stroke="#333" stroke-width="1.4"/></svg>
<div class="r" style="left:61px;top:432px;width:145px;height:24px;background:#fff;border:1px solid #cfcfcf;border-radius:3px;"></div>
<div class="t " style="left:68.30px;top:438.79px;font-size:11px;line-height:11px;color:#333">Multi-machine example (1)</div>
<div class="r" style="left:215px;top:432px;width:49.5px;height:24px;background:#fff;border:1px solid #a9a9a9;border-radius:4px"></div>
<div class="r" style="left:225.8px;top:436.4px;width:15.2px;height:15.2px;background:#7ddbd6;border-radius:50%"></div>
<svg style="left:247.5px;top:442.2px" width="8" height="4.5" viewBox="0 0 8 4.5"><path d="M0 0H8L4 4.5Z" fill="#111"/></svg>
<div class="t " style="left:278.00px;top:437.00px;font-size:13px;line-height:13px;color:#444">#</div>
<div class="r" style="left:292px;top:432px;width:110px;height:24px;background:#fff;border:1px solid #cfcfcf;border-radius:3px;"></div>
<div class="t " style="left:299.60px;top:438.79px;font-size:11px;line-height:11px;color:#a0a0a0">Service order</div>
<svg style="left:419.7px;top:431.6px" width="11" height="12.4" viewBox="0 0 384 512" preserveAspectRatio="none"><path d="M153.6 29.9l16-21.3C173.6 3.2 180 0 186.7 0C198.4 0 208 9.6 208 21.3V43.5c0 13.1 5.4 25.7 14.9 34.7L307.6 159C356.4 205.6 384 270.2 384 337.7C384 434 306 512 209.7 512H192C86 512 0 426 0 320v-3.8c0-48.8 19.4-95.6 53.9-130.1l3.5-3.5c4.2-4.2 10-6.6 16-6.6C85.9 176 96 186.1 96 198.6V288c0 35.3 28.7 64 64 64s64-28.7 64-64v-3.9c0-18-7.2-35.3-19.9-48l-38.6-38.6c-24-24-37.5-56.7-37.5-90.7c0-27.7 9-54.8 25.6-76.9z" fill="#7a7a7a"/></svg>
<svg style="left:420px;top:445px" width="9" height="13.2" viewBox="30 0 388 512" preserveAspectRatio="none"><path d="M349.4 44.6c5.9-13.7 1.5-29.7-10.6-38.5s-28.6-8-39.9 1.8l-256 224c-10 8.8-13.6 22.9-8.9 35.3S50.7 288 64 288H175.5L98.6 467.4c-5.9 13.7-1.5 29.7 10.6 38.5s28.6 8 39.9-1.8l256-224c10-8.8 13.6-22.9 8.9-35.3s-16.6-20.7-30-20.7H272.5L349.4 44.6z" fill="#555"/></svg>
<div class="t " style="left:441.50px;top:432.38px;font-size:9px;line-height:9px;color:#a0a0a0"><b style="color:#a2a2a2">Hours/machine</b> Unknown</div>
<div class="t " style="left:441.50px;top:447.18px;font-size:9px;line-height:9px;color:#a0a0a0"><b style="color:#a2a2a2">Impact</b> Work hours only</div>
<div class="r" style="left:550px;top:430.5px;width:25px;height:26px;background:#78aecb;border-radius:3px"></div>
<svg style="left:555px;top:436.6px" width="14" height="14" viewBox="0 0 14 14"><circle cx="7" cy="7" r="3.7" fill="none" stroke="#5d6870" stroke-width="1.5"/><path d="M7 0.8V5.4M7 8.6V13.2M0.8 7H5.4M8.6 7H13.2" stroke="#5d6870" stroke-width="1.7"/></svg>
<div class="r" style="left:1121px;top:426px;width:459px;height:33.5px;background:#a3d8f3;border:1px solid #8fd0f2;border-radius:13px"></div>
<svg style="left:1126px;top:431.2px" width="12.2" height="12.2" viewBox="0 0 12 12"><circle cx="6" cy="6" r="5" fill="none" stroke="#fff" stroke-width="1.5"/><path d="M6 2.8V6.3H8.6" fill="none" stroke="#fff" stroke-width="1.4"/></svg>
<div class="t b" style="left:1147.80px;top:435.84px;font-size:12px;line-height:12px;color:#fff">From</div>
<div class="r" style="left:1190.6px;top:432px;width:73.6px;height:23.3px;background:#fff;border:1px solid #cfcfcf;border-radius:3px;border-color:#c2cdd6"></div>
<div class="t " style="left:1197.20px;top:439.29px;font-size:11px;line-height:11px;color:#333">17/06/2024</div>
<div class="r" style="left:1275.3px;top:432px;width:44.5px;height:11.5px;background:linear-gradient(#0a6ad0,#0046c4);border:1px solid #0a4fb0;border-radius:3px 3px 0 0"></div>
<div class="t " style="left:1267.85px;width:60px;text-align:center;top:433.02px;font-size:8.6px;line-height:8.6px;color:#fff;-webkit-text-stroke:0.25px #fff">9:30</div>
<div class="r" style="left:1275.3px;top:443.5px;width:44.5px;height:11px;background:linear-gradient(#fbfbfb,#e2e2e2);border:1px solid #c9c9c9;border-top:0;border-radius:0 0 3px 3px;box-shadow:0 1px 1px rgba(0,0,0,0.12)"></div>
<div class="t " style="left:1267.85px;width:60px;text-align:center;top:443.72px;font-size:8.6px;line-height:8.6px;color:#222;-webkit-text-stroke:0.25px #222">12:30</div>
<div class="r" style="left:1319.8px;top:432px;width:22px;height:22.5px;background:linear-gradient(#fbfbfb,#e3e3e3);border:1px solid #c9c9c9;border-radius:0 3px 3px 0;box-shadow:0 1px 1px rgba(0,0,0,0.12)"></div>
<svg style="left:1324.7px;top:436.7px" width="12.4" height="12.4" viewBox="0 0 12 12"><circle cx="6" cy="6" r="5" fill="none" stroke="#111" stroke-width="1.8"/><path d="M6 2.8V6.3H8.6" fill="none" stroke="#111" stroke-width="1.4"/></svg>
<div class="t b" style="left:1353.70px;top:435.84px;font-size:12px;line-height:12px;color:#fff">to</div>
<div class="r" style="left:1377.4px;top:432px;width:74px;height:23.3px;background:#fff;border:1px solid #cfcfcf;border-radius:3px;border-color:#c2cdd6"></div>
<div class="t " style="left:1384.00px;top:439.29px;font-size:11px;line-height:11px;color:#333">18/06/2024</div>
<div class="r" style="left:1462.9px;top:432px;width:44.5px;height:11.5px;background:linear-gradient(#fbfbfb,#e6e6e6);border:1px solid #c9c9c9;border-radius:3px 3px 0 0"></div>
<div class="t " style="left:1455.45px;width:60px;text-align:center;top:433.02px;font-size:8.6px;line-height:8.6px;color:#222;-webkit-text-stroke:0.25px #222">12:30</div>
<div class="r" style="left:1462.9px;top:443.5px;width:44.5px;height:11px;background:linear-gradient(#fbfbfb,#e2e2e2);border:1px solid #c9c9c9;border-top:0;border-radius:0 0 3px 3px;box-shadow:0 1px 1px rgba(0,0,0,0.12)"></div>
<div class="t " style="left:1455.45px;width:60px;text-align:center;top:443.72px;font-size:8.6px;line-height:8.6px;color:#222;-webkit-text-stroke:0.25px #222">16:30</div>
<div class="r" style="left:1507.4px;top:432px;width:41.5px;height:23px;background:#fff;border:1px solid #cfcfcf;border-radius:3px;border-radius:0;border-color:#c2cdd6"></div>
<div class="t " style="left:1513.80px;top:439.29px;font-size:11px;line-height:11px;color:#333">14:00</div>
<div class="r" style="left:1549.9px;top:432.3px;width:20.4px;height:20.2px;background:linear-gradient(#0a6ed4,#0042c0);border-radius:0 4px 4px 0;box-shadow:0 1px 1px rgba(0,0,0,0.15)"></div>
<svg style="left:1553.9px;top:436.20000000000005px" width="12.4" height="12.4" viewBox="0 0 12 12"><circle cx="6" cy="6" r="5" fill="none" stroke="#fff" stroke-width="1.6"/><path d="M6 2.8V6.3H8.6" fill="none" stroke="#fff" stroke-width="1.4"/></svg>
<svg style="left:1591.2px;top:434px" width="10.7" height="13.2" viewBox="0 0 448 512" preserveAspectRatio="none"><path d="M135.2 17.7C140.6 6.8 151.7 0 163.8 0H284.2c12.1 0 23.2 6.8 28.6 17.7L320 32h96c17.7 0 32 14.3 32 32s-14.3 32-32 32H32C14.3 96 0 81.7 0 64S14.3 32 32 32h96l7.2-14.3zM32 128H416V448c0 35.3-28.7 64-64 64H96c-35.3 0-64-28.7-64-64V128zm96 64c-8.8 0-16 7.2-16 16V432c0 8.8 7.2 16 16 16s16-7.2 16-16V208c0-8.8-7.2-16-16-16zm96 0c-8.8 0-16 7.2-16 16V432c0 8.8 7.2 16 16 16s16-7.2 16-16V208c0-8.8-7.2-16-16-16zm96 0c-8.8 0-16 7.2-16 16V432c0 8.8 7.2 16 16 16s16-7.2 16-16V208c0-8.8-7.2-16-16-16z" fill="#9b9b9b"/></svg>
<svg style="left:546px;top:481px" width="9" height="12.7" viewBox="30 0 388 512" preserveAspectRatio="none"><path d="M349.4 44.6c5.9-13.7 1.5-29.7-10.6-38.5s-28.6-8-39.9 1.8l-256 224c-10 8.8-13.6 22.9-8.9 35.3S50.7 288 64 288H175.5L98.6 467.4c-5.9 13.7-1.5 29.7 10.6 38.5s28.6 8 39.9-1.8l256-224c10-8.8 13.6-22.9 8.9-35.3s-16.6-20.7-30-20.7H272.5L349.4 44.6z" fill="#111"/></svg>
<div class="r" style="left:561px;top:476.4px;width:196.5px;height:21px;border:1px solid #c2c2c2;border-radius:3px;background:linear-gradient(#fbfbfb,#e2e2e2);box-shadow:0 1px 1px rgba(0,0,0,0.1)"></div>
<div class="r" style="left:561.0px;top:476.4px;width:61px;height:21px;background:#bd55bd;border-radius:3px 0 0 3px"></div>
<div class="t b" style="left:556.50px;width:70px;text-align:center;top:481.84px;font-size:10px;line-height:10px;color:#222">FEV30001</div>
<div class="t b" style="left:617.00px;width:70px;text-align:center;top:481.84px;font-size:10px;line-height:10px;color:#444"><s>FEV30002</s></div>
<div class="r" style="left:621.5px;top:476.4px;width:1px;height:21px;background:#cfcfcf"></div>
<div class="t b" style="left:677.50px;width:70px;text-align:center;top:481.84px;font-size:10px;line-height:10px;color:#444"><s>FEV30003</s></div>
<div class="r" style="left:682.0px;top:476.4px;width:1px;height:21px;background:#cfcfcf"></div>
<div class="r" style="left:742.5px;top:476.4px;width:1px;height:21px;background:#cfcfcf"></div>
<svg style="left:746px;top:484.5px" width="8" height="4.5" viewBox="0 0 8 4.5"><path d="M0 0H8L4 4.5Z" fill="#111"/></svg>
<div class="r" style="left:762px;top:480px;width:99.5px;height:13.7px;background:#fff;border-radius:4px"></div>
<div class="t " style="left:766.00px;top:482.58px;font-size:9px;line-height:9px;color:#444">Workload of <b>11.5</b> hours</div>
<svg style="left:885.8px;top:484.6px" width="12.2" height="12.4" viewBox="0 0 448 512" preserveAspectRatio="none"><path d="M224 256A128 128 0 1 0 224 0a128 128 0 1 0 0 256zm-45.7 48C79.8 304 0 383.8 0 482.3C0 498.7 13.3 512 29.7 512H418.3c16.4 0 29.7-13.3 29.7-29.7C448 383.8 368.2 304 269.7 304H178.3z" fill="#222"/></svg>
<div class="r" style="left:909.2px;top:484px;width:189.5px;height:13.8px;background:#fff;border-radius:4px"></div>
<div class="t " style="left:913.00px;top:486.78px;font-size:9px;line-height:9px;color:#444">0% of workload is met, 0 man-hours assigned</div>
<div class="r" style="left:23px;top:513px;width:1592px;height:89px;border:1px solid #fff;background:#e4eff5"></div>
<div class="r" style="left:24px;top:514px;width:1590px;height:49px;background:#dcebf4"></div>
<div class="r" style="left:24px;top:563px;width:1590px;height:2px;background:#a6d8f2"></div>
<div class="r" style="left:24px;top:599px;width:1590px;height:2px;background:#a6d8f2"></div>
<svg style="left:33.0px;top:530.1px" width="15.8" height="15.8" viewBox="0 0 15.8 15.8"><circle cx="7.9" cy="7.9" r="7.4" fill="#fff" stroke="#e4e4e4" stroke-width="1"/><path d="M5.4 3.4000000000000004V7.800000000000001Q5.4 10.3 8.200000000000001 10.3H11.4" fill="none" stroke="#333" stroke-width="1.5"/><path d="M9.3 8.0L11.7 10.3L9.3 12.600000000000001" fill="none" stroke="#333" stroke-width="1.4"/></svg>
<div class="r" style="left:61px;top:527px;width:145px;height:24px;background:#fff;border:1px solid #cfcfcf;border-radius:3px;"></div>
<div class="t " style="left:68.30px;top:533.79px;font-size:11px;line-height:11px;color:#333">Multi-machine example (2)</div>
<div class="r" style="left:215px;top:527px;width:49.5px;height:24px;background:#fff;border:1px solid #a9a9a9;border-radius:4px"></div>
<div class="r" style="left:225.8px;top:531.4px;width:15.2px;height:15.2px;background:#7ddbd6;border-radius:50%"></div>
<svg style="left:247.5px;top:537.2px" width="8" height="4.5" viewBox="0 0 8 4.5"><path d="M0 0H8L4 4.5Z" fill="#111"/></svg>
<div class="t " style="left:278.00px;top:532.00px;font-size:13px;line-height:13px;color:#444">#</div>
<div class="r" style="left:292px;top:527px;width:110px;height:24px;background:#fff;border:1px solid #cfcfcf;border-radius:3px;"></div>
<div class="t " style="left:299.60px;top:533.79px;font-size:11px;line-height:11px;color:#a0a0a0">Service order</div>
<svg style="left:419.7px;top:526.6px" width="11" height="12.4" viewBox="0 0 384 512" preserveAspectRatio="none"><path d="M153.6 29.9l16-21.3C173.6 3.2 180 0 186.7 0C198.4 0 208 9.6 208 21.3V43.5c0 13.1 5.4 25.7 14.9 34.7L307.6 159C356.4 205.6 384 270.2 384 337.7C384 434 306 512 209.7 512H192C86 512 0 426 0 320v-3.8c0-48.8 19.4-95.6 53.9-130.1l3.5-3.5c4.2-4.2 10-6.6 16-6.6C85.9 176 96 186.1 96 198.6V288c0 35.3 28.7 64 64 64s64-28.7 64-64v-3.9c0-18-7.2-35.3-19.9-48l-38.6-38.6c-24-24-37.5-56.7-37.5-90.7c0-27.7 9-54.8 25.6-76.9z" fill="#7a7a7a"/></svg>
<svg style="left:420px;top:540px" width="9" height="13.2" viewBox="30 0 388 512" preserveAspectRatio="none"><path d="M349.4 44.6c5.9-13.7 1.5-29.7-10.6-38.5s-28.6-8-39.9 1.8l-256 224c-10 8.8-13.6 22.9-8.9 35.3S50.7 288 64 288H175.5L98.6 467.4c-5.9 13.7-1.5 29.7 10.6 38.5s28.6 8 39.9-1.8l256-224c10-8.8 13.6-22.9 8.9-35.3s-16.6-20.7-30-20.7H272.5L349.4 44.6z" fill="#555"/></svg>
<div class="t " style="left:441.50px;top:527.38px;font-size:9px;line-height:9px;color:#a0a0a0"><b style="color:#a2a2a2">Hours/machine</b> Unknown</div>
<div class="t " style="left:441.50px;top:542.18px;font-size:9px;line-height:9px;color:#a0a0a0"><b style="color:#a2a2a2">Impact</b> Work hours only</div>
<div class="r" style="left:550px;top:525.5px;width:25px;height:26px;background:#78aecb;border-radius:3px"></div>
<svg style="left:555px;top:531.6px" width="14" height="14" viewBox="0 0 14 14"><circle cx="7" cy="7" r="3.7" fill="none" stroke="#5d6870" stroke-width="1.5"/><path d="M7 0.8V5.4M7 8.6V13.2M0.8 7H5.4M8.6 7H13.2" stroke="#5d6870" stroke-width="1.7"/></svg>
<div class="r" style="left:1079px;top:521px;width:501px;height:33.5px;background:#a3d8f3;border:1px solid #8fd0f2;border-radius:13px"></div>
<svg style="left:1084px;top:526.2px" width="12.2" height="12.2" viewBox="0 0 12 12"><circle cx="6" cy="6" r="5" fill="none" stroke="#fff" stroke-width="1.5"/><path d="M6 2.8V6.3H8.6" fill="none" stroke="#fff" stroke-width="1.4"/></svg>
<div class="t b" style="left:1105.80px;top:530.84px;font-size:12px;line-height:12px;color:#fff">From</div>
<div class="r" style="left:1148.6px;top:527px;width:73.6px;height:23.3px;background:#fff;border:1px solid #cfcfcf;border-radius:3px;border-color:#c2cdd6"></div>
<div class="t " style="left:1155.20px;top:534.29px;font-size:11px;line-height:11px;color:#333">18/06/2024</div>
<div class="r" style="left:1233.3px;top:527px;width:44.5px;height:11.5px;background:linear-gradient(#fbfbfb,#e6e6e6);border:1px solid #c9c9c9;border-radius:3px 3px 0 0"></div>
<div class="t " style="left:1225.85px;width:60px;text-align:center;top:528.02px;font-size:8.6px;line-height:8.6px;color:#222;-webkit-text-stroke:0.25px #222">9:30</div>
<div class="r" style="left:1233.3px;top:538.5px;width:44.5px;height:11px;background:linear-gradient(#fbfbfb,#e2e2e2);border:1px solid #c9c9c9;border-top:0;border-radius:0 0 3px 3px;box-shadow:0 1px 1px rgba(0,0,0,0.12)"></div>
<div class="t " style="left:1225.85px;width:60px;text-align:center;top:538.72px;font-size:8.6px;line-height:8.6px;color:#222;-webkit-text-stroke:0.25px #222">12:30</div>
<div class="r" style="left:1277.8px;top:527px;width:41.5px;height:23px;background:#fff;border:1px solid #cfcfcf;border-radius:3px;border-radius:0;border-color:#c2cdd6"></div>
<div class="t " style="left:1284.40px;top:534.29px;font-size:11px;line-height:11px;color:#333">14:00</div>
<div class="r" style="left:1320.8999999999999px;top:527.3px;width:20.4px;height:20.2px;background:linear-gradient(#0a6ed4,#0042c0);border-radius:0 4px 4px 0;box-shadow:0 1px 1px rgba(0,0,0,0.15)"></div>
<svg style="left:1324.8999999999999px;top:531.1999999999999px" width="12.4" height="12.4" viewBox="0 0 12 12"><circle cx="6" cy="6" r="5" fill="none" stroke="#fff" stroke-width="1.6"/><path d="M6 2.8V6.3H8.6" fill="none" stroke="#fff" stroke-width="1.4"/></svg>
<div class="t b" style="left:1353.70px;top:530.84px;font-size:12px;line-height:12px;color:#fff">to</div>
<div class="r" style="left:1377.4px;top:527px;width:74px;height:23.3px;background:#fff;border:1px solid #cfcfcf;border-radius:3px;border-color:#c2cdd6"></div>
<div class="t " style="left:1384.00px;top:534.29px;font-size:11px;line-height:11px;color:#333">20/06/2024</div>
<div class="r" style="left:1462.9px;top:527px;width:44.5px;height:11.5px;background:linear-gradient(#fbfbfb,#e6e6e6);border:1px solid #c9c9c9;border-radius:3px 3px 0 0"></div>
<div class="t " style="left:1455.45px;width:60px;text-align:center;top:528.02px;font-size:8.6px;line-height:8.6px;color:#222;-webkit-text-stroke:0.25px #222">12:30</div>
<div class="r" style="left:1462.9px;top:538.5px;width:44.5px;height:11px;background:linear-gradient(#fbfbfb,#e2e2e2);border:1px solid #c9c9c9;border-top:0;border-radius:0 0 3px 3px;box-shadow:0 1px 1px rgba(0,0,0,0.12)"></div>
<div class="t " style="left:1455.45px;width:60px;text-align:center;top:538.72px;font-size:8.6px;line-height:8.6px;color:#222;-webkit-text-stroke:0.25px #222">16:30</div>
<div class="r" style="left:1507.4px;top:527px;width:41.5px;height:23px;background:#fff;border:1px solid #cfcfcf;border-radius:3px;border-radius:0;border-color:#c2cdd6"></div>
<div class="t " style="left:1513.80px;top:534.29px;font-size:11px;line-height:11px;color:#333">11:30</div>
<div class="r" style="left:1549.9px;top:527.3px;width:20.4px;height:20.2px;background:linear-gradient(#0a6ed4,#0042c0);border-radius:0 4px 4px 0;box-shadow:0 1px 1px rgba(0,0,0,0.15)"></div>
<svg style="left:1553.9px;top:531.1999999999999px" width="12.4" height="12.4" viewBox="0 0 12 12"><circle cx="6" cy="6" r="5" fill="none" stroke="#fff" stroke-width="1.6"/><path d="M6 2.8V6.3H8.6" fill="none" stroke="#fff" stroke-width="1.4"/></svg>
<svg style="left:1591.2px;top:529px" width="10.7" height="13.2" viewBox="0 0 448 512" preserveAspectRatio="none"><path d="M135.2 17.7C140.6 6.8 151.7 0 163.8 0H284.2c12.1 0 23.2 6.8 28.6 17.7L320 32h96c17.7 0 32 14.3 32 32s-14.3 32-32 32H32C14.3 96 0 81.7 0 64S14.3 32 32 32h96l7.2-14.3zM32 128H416V448c0 35.3-28.7 64-64 64H96c-35.3 0-64-28.7-64-64V128zm96 64c-8.8 0-16 7.2-16 16V432c0 8.8 7.2 16 16 16s16-7.2 16-16V208c0-8.8-7.2-16-16-16zm96 0c-8.8 0-16 7.2-16 16V432c0 8.8 7.2 16 16 16s16-7.2 16-16V208c0-8.8-7.2-16-16-16zm96 0c-8.8 0-16 7.2-16 16V432c0 8.8 7.2 16 16 16s16-7.2 16-16V208c0-8.8-7.2-16-16-16z" fill="#9b9b9b"/></svg>
<svg style="left:546px;top:576px" width="9" height="12.7" viewBox="30 0 388 512" preserveAspectRatio="none"><path d="M349.4 44.6c5.9-13.7 1.5-29.7-10.6-38.5s-28.6-8-39.9 1.8l-256 224c-10 8.8-13.6 22.9-8.9 35.3S50.7 288 64 288H175.5L98.6 467.4c-5.9 13.7-1.5 29.7 10.6 38.5s28.6 8 39.9-1.8l256-224c10-8.8 13.6-22.9 8.9-35.3s-16.6-20.7-30-20.7H272.5L349.4 44.6z" fill="#111"/></svg>
<div class="r" style="left:561px;top:571.4px;width:196.5px;height:21px;border:1px solid #c2c2c2;border-radius:3px;background:linear-gradient(#fbfbfb,#e2e2e2);box-shadow:0 1px 1px rgba(0,0,0,0.1)"></div>
<div class="t b" style="left:556.50px;width:70px;text-align:center;top:576.83px;font-size:10px;line-height:10px;color:#444"><s>FEV30001</s></div>
<div class="r" style="left:621.5px;top:571.4px;width:61px;height:21px;background:#bd55bd;"></div>
<div class="t b" style="left:617.00px;width:70px;text-align:center;top:576.83px;font-size:10px;line-height:10px;color:#222">FEV30002</div>
<div class="r" style="left:621.5px;top:571.4px;width:1px;height:21px;background:#cfcfcf"></div>
<div class="t b" style="left:677.50px;width:70px;text-align:center;top:576.83px;font-size:10px;line-height:10px;color:#444"><s>FEV30003</s></div>
<div class="r" style="left:682.0px;top:571.4px;width:1px;height:21px;background:#cfcfcf"></div>
<div class="r" style="left:742.5px;top:571.4px;width:1px;height:21px;background:#cfcfcf"></div>
<svg style="left:746px;top:579.5px" width="8" height="4.5" viewBox="0 0 8 4.5"><path d="M0 0H8L4 4.5Z" fill="#111"/></svg>
<div class="r" style="left:762px;top:575px;width:99.5px;height:13.7px;background:#fff;border-radius:4px"></div>
<div class="t " style="left:766.00px;top:577.58px;font-size:9px;line-height:9px;color:#444">Workload of <b>11.5</b> hours</div>
<svg style="left:885.8px;top:579.6px" width="12.2" height="12.4" viewBox="0 0 448 512" preserveAspectRatio="none"><path d="M224 256A128 128 0 1 0 224 0a128 128 0 1 0 0 256zm-45.7 48C79.8 304 0 383.8 0 482.3C0 498.7 13.3 512 29.7 512H418.3c16.4 0 29.7-13.3 29.7-29.7C448 383.8 368.2 304 269.7 304H178.3z" fill="#222"/></svg>
<div class="r" style="left:909.2px;top:579px;width:189.5px;height:13.8px;background:#fff;border-radius:4px"></div>
<div class="t " style="left:913.00px;top:581.78px;font-size:9px;line-height:9px;color:#444">0% of workload is met, 0 man-hours assigned</div>
<div class="r" style="left:23px;top:608px;width:1592px;height:89px;border:1px solid #fff;background:#e4eff5"></div>
<div class="r" style="left:24px;top:609px;width:1590px;height:49px;background:#dcebf4"></div>
<div class="r" style="left:24px;top:658px;width:1590px;height:2px;background:#a6d8f2"></div>
<div class="r" style="left:24px;top:694px;width:1590px;height:2px;background:#a6d8f2"></div>
<svg style="left:33.0px;top:625.1px" width="15.8" height="15.8" viewBox="0 0 15.8 15.8"><circle cx="7.9" cy="7.9" r="7.4" fill="#fff" stroke="#e4e4e4" stroke-width="1"/><path d="M5.4 3.4000000000000004V7.800000000000001Q5.4 10.3 8.200000000000001 10.3H11.4" fill="none" stroke="#333" stroke-width="1.5"/><path d="M9.3 8.0L11.7 10.3L9.3 12.600000000000001" fill="none" stroke="#333" stroke-width="1.4"/></svg>
<div class="r" style="left:61px;top:622px;width:145px;height:24px;background:#fff;border:1px solid #72aef0;border-radius:3px;box-shadow:0 0 4px rgba(80,150,240,0.55)"></div>
<div class="r" style="left:67.3px;top:626.5px;width:133.5px;height:15px;background:#3a6fd8"></div>
<div class="t " style="left:68.30px;top:628.79px;font-size:11px;line-height:11px;color:#fff">Multi-machine example (3)</div>
<div class="r" style="left:215px;top:622px;width:49.5px;height:24px;background:#fff;border:1px solid #a9a9a9;border-radius:4px"></div>
<div class="r" style="left:225.8px;top:626.4px;width:15.2px;height:15.2px;background:#7ddbd6;border-radius:50%"></div>
<svg style="left:247.5px;top:632.2px" width="8" height="4.5" viewBox="0 0 8 4.5"><path d="M0 0H8L4 4.5Z" fill="#111"/></svg>
<div class="t " style="left:278.00px;top:627.00px;font-size:13px;line-height:13px;color:#444">#</div>
<div class="r" style="left:292px;top:622px;width:110px;height:24px;background:#fff;border:1px solid #cfcfcf;border-radius:3px;"></div>
<div class="t " style="left:299.60px;top:628.79px;font-size:11px;line-height:11px;color:#a0a0a0">Service order</div>
<svg style="left:419.7px;top:621.6px" width="11" height="12.4" viewBox="0 0 384 512" preserveAspectRatio="none"><path d="M153.6 29.9l16-21.3C173.6 3.2 180 0 186.7 0C198.4 0 208 9.6 208 21.3V43.5c0 13.1 5.4 25.7 14.9 34.7L307.6 159C356.4 205.6 384 270.2 384 337.7C384 434 306 512 209.7 512H192C86 512 0 426 0 320v-3.8c0-48.8 19.4-95.6 53.9-130.1l3.5-3.5c4.2-4.2 10-6.6 16-6.6C85.9 176 96 186.1 96 198.6V288c0 35.3 28.7 64 64 64s64-28.7 64-64v-3.9c0-18-7.2-35.3-19.9-48l-38.6-38.6c-24-24-37.5-56.7-37.5-90.7c0-27.7 9-54.8 25.6-76.9z" fill="#7a7a7a"/></svg>
<svg style="left:420px;top:635px" width="9" height="13.2" viewBox="30 0 388 512" preserveAspectRatio="none"><path d="M349.4 44.6c5.9-13.7 1.5-29.7-10.6-38.5s-28.6-8-39.9 1.8l-256 224c-10 8.8-13.6 22.9-8.9 35.3S50.7 288 64 288H175.5L98.6 467.4c-5.9 13.7-1.5 29.7 10.6 38.5s28.6 8 39.9-1.8l256-224c10-8.8 13.6-22.9 8.9-35.3s-16.6-20.7-30-20.7H272.5L349.4 44.6z" fill="#555"/></svg>
<div class="t " style="left:441.50px;top:622.38px;font-size:9px;line-height:9px;color:#a0a0a0"><b style="color:#a2a2a2">Hours/machine</b> Unknown</div>
<div class="t " style="left:441.50px;top:637.18px;font-size:9px;line-height:9px;color:#a0a0a0"><b style="color:#a2a2a2">Impact</b> Work hours only</div>
<div class="r" style="left:550px;top:620.5px;width:25px;height:26px;background:#78aecb;border-radius:3px"></div>
<svg style="left:555px;top:626.6px" width="14" height="14" viewBox="0 0 14 14"><circle cx="7" cy="7" r="3.7" fill="none" stroke="#5d6870" stroke-width="1.5"/><path d="M7 0.8V5.4M7 8.6V13.2M0.8 7H5.4M8.6 7H13.2" stroke="#5d6870" stroke-width="1.7"/></svg>
<div class="r" style="left:1079px;top:616px;width:501px;height:33.5px;background:#a3d8f3;border:1px solid #8fd0f2;border-radius:13px"></div>
<svg style="left:1084px;top:621.2px" width="12.2" height="12.2" viewBox="0 0 12 12"><circle cx="6" cy="6" r="5" fill="none" stroke="#fff" stroke-width="1.5"/><path d="M6 2.8V6.3H8.6" fill="none" stroke="#fff" stroke-width="1.4"/></svg>
<div class="t b" style="left:1105.80px;top:625.84px;font-size:12px;line-height:12px;color:#fff">From</div>
<div class="r" style="left:1148.6px;top:622px;width:73.6px;height:23.3px;background:#fff;border:1px solid #cfcfcf;border-radius:3px;border-color:#c2cdd6"></div>
<div class="t " style="left:1155.20px;top:629.29px;font-size:11px;line-height:11px;color:#333">20/06/2024</div>
<div class="r" style="left:1233.3px;top:622px;width:44.5px;height:11.5px;background:linear-gradient(#fbfbfb,#e6e6e6);border:1px solid #c9c9c9;border-radius:3px 3px 0 0"></div>
<div class="t " style="left:1225.85px;width:60px;text-align:center;top:623.02px;font-size:8.6px;line-height:8.6px;color:#222;-webkit-text-stroke:0.25px #222">9:30</div>
<div class="r" style="left:1233.3px;top:633.5px;width:44.5px;height:11px;background:linear-gradient(#fbfbfb,#e2e2e2);border:1px solid #c9c9c9;border-top:0;border-radius:0 0 3px 3px;box-shadow:0 1px 1px rgba(0,0,0,0.12)"></div>
<div class="t " style="left:1225.85px;width:60px;text-align:center;top:633.72px;font-size:8.6px;line-height:8.6px;color:#222;-webkit-text-stroke:0.25px #222">12:30</div>
<div class="r" style="left:1277.8px;top:622px;width:41.5px;height:23px;background:#fff;border:1px solid #cfcfcf;border-radius:3px;border-radius:0;border-color:#c2cdd6"></div>
<div class="t " style="left:1284.40px;top:629.29px;font-size:11px;line-height:11px;color:#333">11:30</div>
<div class="r" style="left:1320.8999999999999px;top:622.3px;width:20.4px;height:20.2px;background:linear-gradient(#0a6ed4,#0042c0);border-radius:0 4px 4px 0;box-shadow:0 1px 1px rgba(0,0,0,0.15)"></div>
<svg style="left:1324.8999999999999px;top:626.1999999999999px" width="12.4" height="12.4" viewBox="0 0 12 12"><circle cx="6" cy="6" r="5" fill="none" stroke="#fff" stroke-width="1.6"/><path d="M6 2.8V6.3H8.6" fill="none" stroke="#fff" stroke-width="1.4"/></svg>
<div class="t b" style="left:1353.70px;top:625.84px;font-size:12px;line-height:12px;color:#fff">to</div>
<div class="r" style="left:1377.4px;top:622px;width:74px;height:23.3px;background:#fff;border:1px solid #cfcfcf;border-radius:3px;border-color:#c2cdd6"></div>
<div class="t " style="left:1384.00px;top:629.29px;font-size:11px;line-height:11px;color:#333">21/06/2024</div>
<div class="r" style="left:1462.9px;top:622px;width:44.5px;height:11.5px;background:linear-gradient(#fbfbfb,#e6e6e6);border:1px solid #c9c9c9;border-radius:3px 3px 0 0"></div>
<div class="t " style="left:1455.45px;width:60px;text-align:center;top:623.02px;font-size:8.6px;line-height:8.6px;color:#222;-webkit-text-stroke:0.25px #222">12:30</div>
<div class="r" style="left:1462.9px;top:633.5px;width:44.5px;height:11px;background:linear-gradient(#fbfbfb,#e2e2e2);border:1px solid #c9c9c9;border-top:0;border-radius:0 0 3px 3px;box-shadow:0 1px 1px rgba(0,0,0,0.12)"></div>
<div class="t " style="left:1455.45px;width:60px;text-align:center;top:633.72px;font-size:8.6px;line-height:8.6px;color:#222;-webkit-text-stroke:0.25px #222">16:30</div>
<div class="r" style="left:1507.4px;top:622px;width:41.5px;height:23px;background:#fff;border:1px solid #cfcfcf;border-radius:3px;border-radius:0;border-color:#c2cdd6"></div>
<div class="t " style="left:1513.80px;top:629.29px;font-size:11px;line-height:11px;color:#333">16:00</div>
<div class="r" style="left:1549.9px;top:622.3px;width:20.4px;height:20.2px;background:linear-gradient(#0a6ed4,#0042c0);border-radius:0 4px 4px 0;box-shadow:0 1px 1px rgba(0,0,0,0.15)"></div>
<svg style="left:1553.9px;top:626.1999999999999px" width="12.4" height="12.4" viewBox="0 0 12 12"><circle cx="6" cy="6" r="5" fill="none" stroke="#fff" stroke-width="1.6"/><path d="M6 2.8V6.3H8.6" fill="none" stroke="#fff" stroke-width="1.4"/></svg>
<svg style="left:1591.2px;top:624px" width="10.7" height="13.2" viewBox="0 0 448 512" preserveAspectRatio="none"><path d="M135.2 17.7C140.6 6.8 151.7 0 163.8 0H284.2c12.1 0 23.2 6.8 28.6 17.7L320 32h96c17.7 0 32 14.3 32 32s-14.3 32-32 32H32C14.3 96 0 81.7 0 64S14.3 32 32 32h96l7.2-14.3zM32 128H416V448c0 35.3-28.7 64-64 64H96c-35.3 0-64-28.7-64-64V128zm96 64c-8.8 0-16 7.2-16 16V432c0 8.8 7.2 16 16 16s16-7.2 16-16V208c0-8.8-7.2-16-16-16zm96 0c-8.8 0-16 7.2-16 16V432c0 8.8 7.2 16 16 16s16-7.2 16-16V208c0-8.8-7.2-16-16-16zm96 0c-8.8 0-16 7.2-16 16V432c0 8.8 7.2 16 16 16s16-7.2 16-16V208c0-8.8-7.2-16-16-16z" fill="#9b9b9b"/></svg>
<svg style="left:546px;top:671px" width="9" height="12.7" viewBox="30 0 388 512" preserveAspectRatio="none"><path d="M349.4 44.6c5.9-13.7 1.5-29.7-10.6-38.5s-28.6-8-39.9 1.8l-256 224c-10 8.8-13.6 22.9-8.9 35.3S50.7 288 64 288H175.5L98.6 467.4c-5.9 13.7-1.5 29.7 10.6 38.5s28.6 8 39.9-1.8l256-224c10-8.8 13.6-22.9 8.9-35.3s-16.6-20.7-30-20.7H272.5L349.4 44.6z" fill="#111"/></svg>
<div class="r" style="left:561px;top:666.4px;width:196.5px;height:21px;border:1px solid #c2c2c2;border-radius:3px;background:linear-gradient(#fbfbfb,#e2e2e2);box-shadow:0 1px 1px rgba(0,0,0,0.1)"></div>
<div class="t b" style="left:556.50px;width:70px;text-align:center;top:671.83px;font-size:10px;line-height:10px;color:#444"><s>FEV30001</s></div>
<div class="t b" style="left:617.00px;width:70px;text-align:center;top:671.83px;font-size:10px;line-height:10px;color:#444"><s>FEV30002</s></div>
<div class="r" style="left:621.5px;top:666.4px;width:1px;height:21px;background:#cfcfcf"></div>
<div class="r" style="left:682.0px;top:666.4px;width:61px;height:21px;background:#bd55bd;"></div>
<div class="t b" style="left:677.50px;width:70px;text-align:center;top:671.83px;font-size:10px;line-height:10px;color:#222">FEV30003</div>
<div class="r" style="left:682.0px;top:666.4px;width:1px;height:21px;background:#cfcfcf"></div>
<div class="r" style="left:742.5px;top:666.4px;width:1px;height:21px;background:#cfcfcf"></div>
<svg style="left:746px;top:674.5px" width="8" height="4.5" viewBox="0 0 8 4.5"><path d="M0 0H8L4 4.5Z" fill="#111"/></svg>
<div class="r" style="left:762px;top:670px;width:99.5px;height:13.7px;background:#fff;border-radius:4px"></div>
<div class="t " style="left:766.00px;top:672.58px;font-size:9px;line-height:9px;color:#444">Workload of <b>11.5</b> hours</div>
<svg style="left:885.8px;top:674.6px" width="12.2" height="12.4" viewBox="0 0 448 512" preserveAspectRatio="none"><path d="M224 256A128 128 0 1 0 224 0a128 128 0 1 0 0 256zm-45.7 48C79.8 304 0 383.8 0 482.3C0 498.7 13.3 512 29.7 512H418.3c16.4 0 29.7-13.3 29.7-29.7C448 383.8 368.2 304 269.7 304H178.3z" fill="#222"/></svg>
<div class="r" style="left:909.2px;top:674px;width:189.5px;height:13.8px;background:#fff;border-radius:4px"></div>
<div class="t " style="left:913.00px;top:676.78px;font-size:9px;line-height:9px;color:#444">0% of workload is met, 0 man-hours assigned</div>
<div class="r" style="left:0px;top:704px;width:1642px;height:156px;background:#a8dcf6"></div>
<div class="r" style="left:10px;top:712px;width:1618px;height:140px;background:#fefefe;border:1px solid #b8b8b8"></div>
<div class="r" style="left:173px;top:713px;width:80px;height:138px;background:#eef6fd"></div>
<div class="r" style="left:91px;top:713px;width:1px;height:138px;background:#e6e6e6"></div>
<div class="r" style="left:172px;top:713px;width:1px;height:138px;background:#e6e6e6"></div>
<div class="r" style="left:253px;top:713px;width:1px;height:138px;background:#e6e6e6"></div>
<div class="r" style="left:334px;top:713px;width:1px;height:138px;background:#e6e6e6"></div>
<div class="r" style="left:416px;top:713px;width:1px;height:138px;background:#92d2f2"></div>
<div class="r" style="left:496px;top:713px;width:1px;height:138px;background:#e6e6e6"></div>
<div class="r" style="left:577px;top:713px;width:1px;height:138px;background:#e6e6e6"></div>
<div class="r" style="left:658px;top:713px;width:1px;height:138px;background:#e6e6e6"></div>
<div class="r" style="left:739px;top:713px;width:1px;height:138px;background:#e6e6e6"></div>
<div class="r" style="left:820px;top:713px;width:1px;height:138px;background:#92d2f2"></div>
<div class="r" style="left:900px;top:713px;width:1px;height:138px;background:#e6e6e6"></div>
<div class="r" style="left:981px;top:713px;width:1px;height:138px;background:#e6e6e6"></div>
<div class="r" style="left:1062px;top:713px;width:1px;height:138px;background:#e6e6e6"></div>
<div class="r" style="left:1143px;top:713px;width:1px;height:138px;background:#e6e6e6"></div>
<div class="r" style="left:1225px;top:713px;width:1px;height:138px;background:#92d2f2"></div>
<div class="r" style="left:1305px;top:713px;width:1px;height:138px;background:#e6e6e6"></div>
<div class="r" style="left:1386px;top:713px;width:1px;height:138px;background:#e6e6e6"></div>
<div class="r" style="left:1467px;top:713px;width:1px;height:138px;background:#e6e6e6"></div>
<div class="r" style="left:1548px;top:713px;width:1px;height:138px;background:#e6e6e6"></div>
<div class="r" style="left:11px;top:809px;width:1616px;height:1px;background:#c8c8c8"></div>
<div class="r" style="left:416.4px;top:715.2px;width:401.8px;height:25.2px;background:#80dfd9;border-radius:6px"></div>
<div class="t" style="left:421.59999999999997px;top:721.5000000000001px;font-family:'Liberation Mono',monospace;font-size:13px;line-height:15px;color:#111;-webkit-text-stroke:0.2px #111">Multi-machine example</div>
<div class="r" style="left:416.4px;top:743.4px;width:130.2px;height:25.2px;background:#80dfd9;border-radius:6px"></div>
<div class="t" style="left:421.59999999999997px;top:749.7px;font-family:'Liberation Mono',monospace;font-size:13px;line-height:15px;color:#111;-webkit-text-stroke:0.2px #111"><svg width="8" height="10" viewBox="0 0 8 10" style="position:relative;display:inline-block;vertical-align:-1px;margin:0 1px 0 0"><path d="M1.2 0V6.6H6" fill="none" stroke="#111" stroke-width="1.5"/><path d="M4 4.2 6.6 6.6 4 9" fill="none" stroke="#111" stroke-width="1.4"/></svg>Multi-machine</div>
<div class="r" style="left:549.2px;top:771.1px;width:130.6px;height:25.4px;background:#80dfd9;border-radius:6px"></div>
<div class="t" style="left:554.4000000000001px;top:777.5000000000001px;font-family:'Liberation Mono',monospace;font-size:13px;line-height:15px;color:#111;-webkit-text-stroke:0.2px #111"><svg width="8" height="10" viewBox="0 0 8 10" style="position:relative;display:inline-block;vertical-align:-1px;margin:0 1px 0 0"><path d="M1.2 0V6.6H6" fill="none" stroke="#111" stroke-width="1.5"/><path d="M4 4.2 6.6 6.6 4 9" fill="none" stroke="#111" stroke-width="1.4"/></svg>Multi-machine</div>
<div class="r" style="left:681.9px;top:743.4px;width:130.2px;height:25.2px;background:#80dfd9;border-radius:6px"></div>
<div class="t" style="left:687.1px;top:749.7px;font-family:'Liberation Mono',monospace;font-size:13px;line-height:15px;color:#111;-webkit-text-stroke:0.2px #111"><svg width="8" height="10" viewBox="0 0 8 10" style="position:relative;display:inline-block;vertical-align:-1px;margin:0 1px 0 0"><path d="M1.2 0V6.6H6" fill="none" stroke="#111" stroke-width="1.5"/><path d="M4 4.2 6.6 6.6 4 9" fill="none" stroke="#111" stroke-width="1.4"/></svg>Multi-machine</div>
<div class="r" style="left:501px;top:127px;width:393px;height:333px;background:rgba(0,0,0,0.95);border-radius:5px"></div>
<svg style="left:692px;top:121px" width="12" height="6.5" viewBox="0 0 12 6.5"><path d="M0.5 6.5 6 0.8 11.5 6.5Z" fill="rgba(0,0,0,0.95)"/></svg>
<div class="r" style="left:651px;top:140px;width:93px;height:18px;background:#6fc7f3"></div>
<svg style="left:658.8px;top:144.3px" width="9.200000000000001" height="11.5" viewBox="0 0 384 512" preserveAspectRatio="none"><path d="M215.7 499.2C267 435 384 279.4 384 192C384 86 298 0 192 0S0 86 0 192c0 87.4 117 243 168.3 307.2c12.3 15.3 35.1 15.3 47.4 0zM192 128a64 64 0 1 1 0 128 64 64 0 1 1 0-128z" fill="#444"/></svg>
<div class="t b" style="left:673.00px;top:143.49px;font-size:11px;line-height:11px;color:#4d4d4d">Berlin North</div>
<div class="t b" style="left:599.20px;width:200px;text-align:center;top:172.84px;font-size:12px;line-height:12px;color:#6fc7f3">20/06/2024</div>
<div class="t b" style="left:547.50px;width:300px;text-align:center;top:190.75px;font-size:14px;line-height:14px;color:#fff">Daily power production estimate</div>
<svg style="left:0;top:0;position:absolute" width="1642" height="893"><g stroke="#8a8a8a" stroke-width="1" stroke-dasharray="1 1.2"><line x1="509" y1="220.5" x2="886" y2="220.5"/><line x1="509" y1="296.5" x2="886" y2="296.5"/><line x1="509" y1="371.5" x2="886" y2="371.5"/><line x1="697.5" y1="221" x2="697.5" y2="371"/></g></svg>
<div class="t " style="left:508.00px;width:190px;text-align:center;top:230.90px;font-size:13px;line-height:13px;color:#1f8f1f">Production estimate</div>
<div class="t " style="left:696.50px;width:190px;text-align:center;top:230.90px;font-size:13px;line-height:13px;color:#1f8f1f">Capacity factor</div>
<div class="t b" style="left:510.00px;width:190px;text-align:center;top:252.05px;font-size:14px;line-height:14px;color:#fff">106 <span style="font-size:11px;color:#a8a8a8">MWh</span></div>
<div class="t b" style="left:696.50px;width:190px;text-align:center;top:252.05px;font-size:14px;line-height:14px;color:#fff">16 <span style="font-size:11px;color:#a8a8a8">%</span></div>
<div class="t " style="left:508.00px;width:190px;text-align:center;top:307.50px;font-size:13px;line-height:13px;color:#e81515">With planned downtime</div>
<div class="t " style="left:696.50px;width:190px;text-align:center;top:307.50px;font-size:13px;line-height:13px;color:#e81515">Planned capacity factor with</div>
<div class="t " style="left:696.50px;width:190px;text-align:center;top:319.30px;font-size:13px;line-height:13px;color:#e81515">downtime</div>
<div class="t b" style="left:510.00px;width:190px;text-align:center;top:328.15px;font-size:14px;line-height:14px;color:#fff">101 <span style="font-size:11px;color:#a8a8a8">MWh</span></div>
<div class="t b" style="left:696.50px;width:190px;text-align:center;top:340.25px;font-size:14px;line-height:14px;color:#fff">15 <span style="font-size:11px;color:#a8a8a8">%</span></div>
<div class="t b" style="left:597.50px;width:200px;text-align:center;top:387.74px;font-size:12px;line-height:12px;color:#fff">Equipment downtime</div>
<div class="r" style="left:578.7px;top:405.0px;width:89.5px;height:19px;background:#bd55bd;border-radius:3px"></div>
<svg style="left:582.8px;top:408.0px" width="10" height="13.5" viewBox="30 0 388 512" preserveAspectRatio="none"><path d="M349.4 44.6c5.9-13.7 1.5-29.7-10.6-38.5s-28.6-8-39.9 1.8l-256 224c-10 8.8-13.6 22.9-8.9 35.3S50.7 288 64 288H175.5L98.6 467.4c-5.9 13.7-1.5 29.7 10.6 38.5s28.6 8 39.9-1.8l256-224c10-8.8 13.6-22.9 8.9-35.3s-16.6-20.7-30-20.7H272.5L349.4 44.6z" fill="#111"/></svg>
<div class="t b" style="left:598.30px;top:407.55px;font-size:14px;line-height:14px;color:#111">FEV30002</div>
<div class="t " style="left:681.00px;top:409.69px;font-size:11px;line-height:11px;color:#fff"><span style="color:#bdbdbd">9:30<svg width="11" height="7" viewBox="0 0 11 7" style="position:relative;display:inline-block;vertical-align:0px;margin:0 3px 0 3px"><path d="M0 3.5H9" stroke="#bdbdbd" stroke-width="1.2"/><path d="M6.8 1.2 10.2 3.5 6.8 5.8" fill="none" stroke="#bdbdbd" stroke-width="1.2"/></svg>11:30<svg width="8" height="8" viewBox="0 0 8 8" style="position:relative;display:inline-block;vertical-align:0px;margin:0 3px 0 3px"><path d="M0.4 2.2C1.6 0.6 2.8 0.8 4 1.6S6.4 2.6 7.6 1.2" fill="none" stroke="#bdbdbd" stroke-width="1"/><path d="M0.4 4.6H7.6M0.4 7H7.6" stroke="#bdbdbd" stroke-width="1"/></svg></span><b style="font-size:11px">2h offline</b></div>
<div class="r" style="left:578.7px;top:426.5px;width:89.5px;height:19px;background:#bd55bd;border-radius:3px"></div>
<svg style="left:582.8px;top:429.5px" width="10" height="13.5" viewBox="30 0 388 512" preserveAspectRatio="none"><path d="M349.4 44.6c5.9-13.7 1.5-29.7-10.6-38.5s-28.6-8-39.9 1.8l-256 224c-10 8.8-13.6 22.9-8.9 35.3S50.7 288 64 288H175.5L98.6 467.4c-5.9 13.7-1.5 29.7 10.6 38.5s28.6 8 39.9-1.8l256-224c10-8.8 13.6-22.9 8.9-35.3s-16.6-20.7-30-20.7H272.5L349.4 44.6z" fill="#111"/></svg>
<div class="t b" style="left:598.30px;top:429.05px;font-size:14px;line-height:14px;color:#111">FEV30003</div>
<div class="t " style="left:678.70px;top:431.19px;font-size:11px;line-height:11px;color:#fff"><span style="color:#bdbdbd">11:30<svg width="11" height="7" viewBox="0 0 11 7" style="position:relative;display:inline-block;vertical-align:0px;margin:0 3px 0 3px"><path d="M0 3.5H9" stroke="#bdbdbd" stroke-width="1.2"/><path d="M6.8 1.2 10.2 3.5 6.8 5.8" fill="none" stroke="#bdbdbd" stroke-width="1.2"/></svg>16:30<svg width="8" height="8" viewBox="0 0 8 8" style="position:relative;display:inline-block;vertical-align:0px;margin:0 3px 0 3px"><path d="M0.4 2.2C1.6 0.6 2.8 0.8 4 1.6S6.4 2.6 7.6 1.2" fill="none" stroke="#bdbdbd" stroke-width="1"/><path d="M0.4 4.6H7.6M0.4 7H7.6" stroke="#bdbdbd" stroke-width="1"/></svg></span><b style="font-size:11px">5h offline</b></div>
</body></html>
